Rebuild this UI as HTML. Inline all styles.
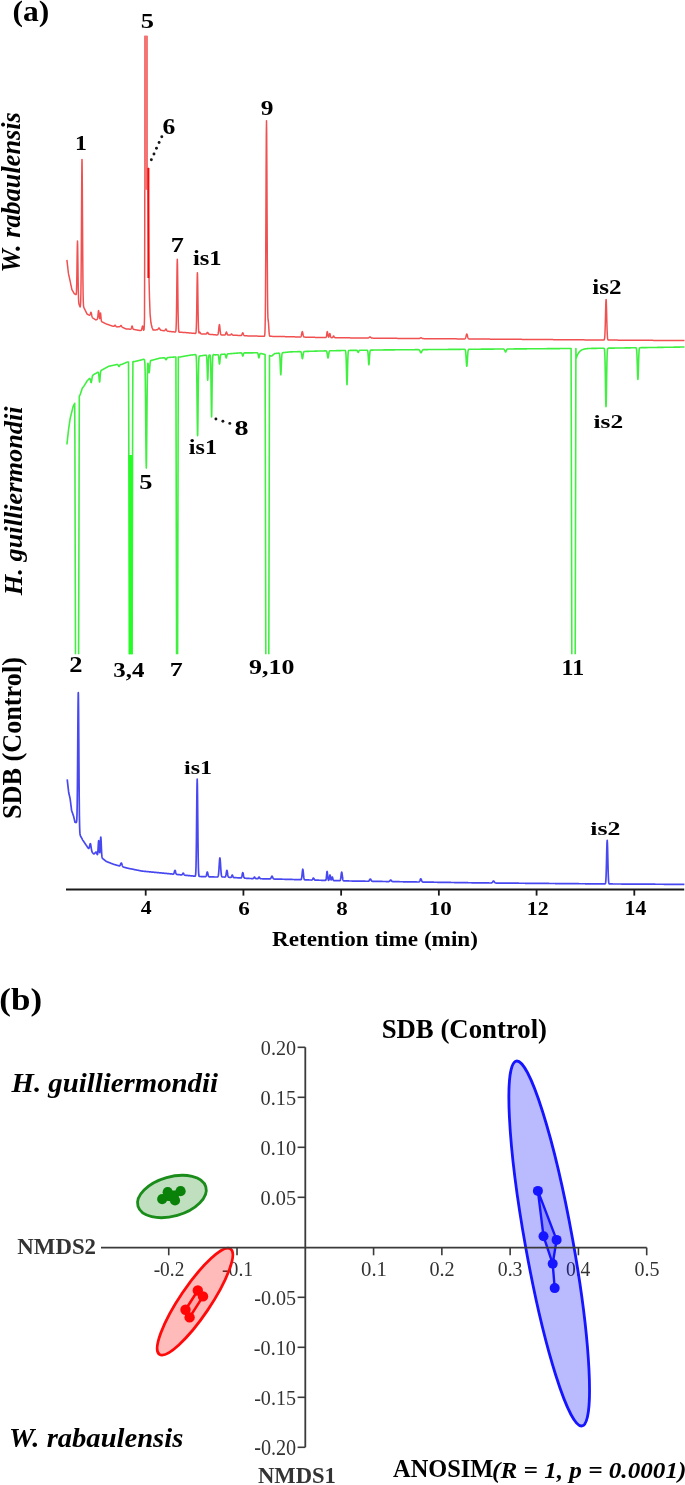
<!DOCTYPE html>
<html><head><meta charset="utf-8"><style>
html,body{margin:0;padding:0;background:#fff;}
svg{display:block;will-change:transform;}
text{font-family:"Liberation Serif",serif;}
</style></head><body>
<svg width="685" height="1485" viewBox="0 0 685 1485">
<rect width="685" height="1485" fill="#fff"/>
<clipPath id="cr"><rect x="0" y="35.8" width="685" height="400"/></clipPath>
<polyline clip-path="url(#cr)" points="66.90,259.80 67.10,261.59 67.30,263.37 67.50,265.16 67.70,266.95 67.90,268.73 68.10,270.52 68.30,272.31 68.50,273.66 68.70,274.57 68.90,275.48 69.10,276.39 69.30,277.30 69.50,278.21 69.70,279.12 69.90,280.03 70.10,280.94 70.30,281.88 70.50,282.85 70.70,283.81 70.90,284.78 71.10,285.74 71.30,286.71 71.50,287.67 71.70,288.64 71.90,289.60 72.10,289.94 72.30,290.28 72.50,290.62 72.70,290.97 72.90,291.31 73.10,291.65 73.30,291.99 73.50,292.33 73.70,292.68 73.90,293.02 74.10,293.36 74.30,293.70 74.50,293.83 74.70,293.96 74.90,294.09 75.10,294.22 75.30,294.35 75.50,294.47 75.70,294.59 75.90,294.63 76.10,294.56 76.30,293.81 76.50,291.00 76.70,284.42 76.90,272.98 77.10,258.40 77.30,245.75 77.50,241.10 77.70,247.35 77.90,261.60 78.10,277.60 78.30,290.28 78.50,298.10 78.70,301.86 78.90,303.57 79.10,304.43 79.30,305.03 79.50,305.56 79.70,306.07 79.90,306.57 80.10,306.99 80.30,306.40 80.50,304.98 80.70,301.38 80.90,293.09 81.10,276.99 81.30,250.98 81.50,217.08 81.70,183.55 81.90,162.30 82.00,159.40 82.10,162.30 82.30,183.55 82.50,217.08 82.70,250.98 82.90,276.99 83.10,293.15 83.30,301.58 83.50,305.32 83.70,306.87 83.90,307.59 84.10,308.06 84.30,308.45 84.50,308.83 84.70,309.21 84.90,309.60 85.10,310.01 85.30,310.42 85.50,310.83 85.70,311.24 85.90,311.65 86.10,312.06 86.30,312.47 86.50,312.87 86.70,313.28 86.90,313.69 87.10,314.10 87.30,314.20 87.50,314.31 87.70,314.41 87.90,314.52 88.10,314.62 88.30,314.73 88.50,314.83 88.70,314.93 88.90,315.03 89.10,315.11 89.30,315.17 89.50,315.19 89.70,315.14 89.90,314.91 90.10,314.48 90.30,313.86 90.50,313.15 90.70,312.56 90.90,312.27 91.00,312.30 91.10,312.45 91.30,313.07 91.50,314.01 91.70,315.05 91.90,316.01 92.10,316.79 92.30,317.30 92.50,317.65 92.70,317.88 92.90,318.06 93.10,318.20 93.30,318.32 93.50,318.45 93.70,318.57 93.90,318.69 94.10,318.81 94.30,318.93 94.50,319.05 94.70,319.17 94.90,319.29 95.10,319.42 95.30,319.54 95.50,319.66 95.70,319.78 95.90,319.90 96.10,319.83 96.30,319.76 96.50,319.69 96.70,319.61 96.90,319.52 97.10,319.37 97.30,319.09 97.50,318.51 97.70,317.52 97.90,315.99 98.10,313.96 98.30,311.95 98.50,310.73 98.60,310.60 98.70,310.84 98.90,312.30 99.10,314.53 99.30,316.72 99.50,318.22 99.70,318.61 99.90,317.70 100.10,315.75 100.30,313.71 100.50,312.89 100.70,313.97 100.90,316.32 101.10,318.72 101.30,320.37 101.50,321.23 101.70,321.61 101.90,321.78 102.10,321.89 102.30,321.99 102.50,322.09 102.70,322.19 102.90,322.29 103.10,322.39 103.30,322.48 103.50,322.58 103.70,322.68 103.90,322.78 104.10,322.87 104.30,322.97 104.50,323.07 104.70,323.17 104.90,323.27 105.10,323.36 105.30,323.46 105.50,323.56 105.70,323.66 105.90,323.76 106.10,323.85 106.30,323.95 106.50,324.03 106.70,324.10 106.90,324.17 107.10,324.24 107.30,324.31 107.50,324.38 107.70,324.45 107.90,324.51 108.10,324.58 108.30,324.65 108.50,324.72 108.70,324.79 108.90,324.86 109.10,324.93 109.30,324.99 109.50,325.06 109.70,325.13 109.90,325.20 110.10,325.27 110.30,325.34 110.50,325.41 110.70,325.47 110.90,325.54 111.10,325.61 111.30,325.68 111.50,325.75 111.70,325.82 111.90,325.89 112.10,325.95 112.30,326.02 112.50,326.09 112.70,326.16 112.90,326.23 113.10,326.29 113.30,326.35 113.50,326.37 113.70,326.35 113.90,326.28 114.10,326.14 114.30,325.94 114.50,325.68 114.70,325.43 114.90,325.25 115.10,325.20 115.30,325.31 115.50,325.54 115.70,325.85 115.90,326.16 116.10,326.43 116.30,326.62 116.50,326.75 116.70,326.83 116.90,326.88 117.10,326.88 117.30,326.88 117.50,326.87 117.70,326.86 117.90,326.85 118.10,326.84 118.30,326.83 118.50,326.82 118.70,326.81 118.90,326.80 119.10,326.78 119.30,326.76 119.50,326.72 119.70,326.65 119.90,326.53 120.10,326.35 120.30,326.13 120.50,325.88 120.70,325.66 120.90,325.52 121.00,325.50 121.10,325.56 121.30,325.77 121.50,326.07 121.70,326.40 121.90,326.71 122.10,326.96 122.30,327.16 122.50,327.31 122.70,327.43 122.90,327.53 123.10,327.63 123.30,327.72 123.50,327.81 123.70,327.89 123.90,327.98 124.10,328.07 124.30,328.16 124.50,328.25 124.70,328.34 124.90,328.43 125.10,328.51 125.30,328.60 125.50,328.69 125.70,328.78 125.90,328.87 126.10,328.96 126.30,329.00 126.50,329.01 126.70,329.02 126.90,329.03 127.10,329.04 127.30,329.05 127.50,329.06 127.70,329.06 127.90,329.07 128.10,329.08 128.30,329.09 128.50,329.10 128.70,329.11 128.90,329.12 129.10,329.12 129.30,329.13 129.50,329.14 129.70,329.15 129.90,329.16 130.10,329.17 130.30,329.17 130.50,329.16 130.70,329.13 130.90,329.02 131.10,328.77 131.30,328.31 131.50,327.64 131.70,326.87 131.90,326.24 132.10,326.00 132.30,326.26 132.50,326.91 132.70,327.70 132.90,328.38 133.10,328.86 133.30,329.14 133.50,329.29 133.70,329.37 133.90,329.43 134.10,329.47 134.30,329.50 134.50,329.54 134.70,329.58 134.90,329.62 135.10,329.65 135.30,329.69 135.50,329.73 135.70,329.77 135.90,329.80 136.10,329.84 136.30,329.88 136.50,329.92 136.70,329.95 136.90,329.99 137.10,330.03 137.30,330.06 137.50,330.10 137.70,330.14 137.90,330.18 138.10,330.21 138.30,330.25 138.50,330.29 138.70,330.33 138.90,330.36 139.10,330.40 139.30,330.40 139.50,330.41 139.70,330.41 139.90,330.42 140.10,330.42 140.30,330.43 140.50,330.43 140.70,330.43 140.90,330.43 141.10,330.40 141.30,330.30 141.50,330.06 141.70,329.57 141.90,328.78 142.10,327.75 142.30,326.73 142.50,326.09 142.60,326.00 142.70,326.09 142.90,326.74 143.10,327.77 143.30,328.81 143.50,329.61 143.70,330.25 143.90,329.75 144.10,329.25 144.30,325.33 144.50,318.00 144.70,250.00 144.90,120.00 145.10,20.00 145.30,20.00 145.50,20.00 145.70,20.00 145.90,20.00 146.10,20.00 146.30,20.00 146.50,20.00 146.70,80.00 146.90,131.67 147.10,175.00 147.30,179.00 147.50,174.56 147.70,167.30 147.90,176.38 148.10,185.46 148.30,202.50 148.50,227.50 148.70,249.50 148.90,268.50 149.10,282.00 149.30,290.00 149.50,298.00 149.70,303.33 149.90,308.67 150.10,314.00 150.30,316.13 150.50,318.25 150.70,320.37 150.90,322.50 151.10,323.41 151.30,324.32 151.50,325.23 151.70,326.14 151.90,327.05 152.10,327.71 152.30,328.13 152.50,328.55 152.70,328.97 152.90,329.39 153.10,329.98 153.30,329.97 153.50,329.96 153.70,329.96 153.90,329.95 154.10,329.94 154.30,329.93 154.50,329.93 154.70,329.92 154.90,329.91 155.10,329.91 155.30,329.90 155.50,329.89 155.70,329.88 155.90,329.88 156.10,329.87 156.30,329.86 156.50,329.85 156.70,329.84 156.90,329.82 157.10,329.78 157.30,329.72 157.50,329.62 157.70,329.46 157.90,329.23 158.10,328.96 158.30,328.66 158.50,328.36 158.70,328.12 158.90,328.00 159.00,328.00 159.10,328.04 159.30,328.22 159.50,328.52 159.70,328.88 159.90,329.24 160.10,329.56 160.30,329.81 160.50,330.00 160.70,330.12 160.90,330.21 161.10,330.27 161.30,330.31 161.50,330.35 161.70,330.38 161.90,330.41 162.10,330.44 162.30,330.48 162.50,330.51 162.70,330.54 162.90,330.57 163.10,330.60 163.30,330.63 163.50,330.66 163.70,330.69 163.90,330.72 164.10,330.74 164.30,330.73 164.50,330.69 164.70,330.58 164.90,330.38 165.10,330.09 165.30,329.72 165.50,329.35 165.70,329.08 165.90,329.00 166.10,329.13 166.30,329.45 166.50,329.86 166.70,330.28 166.90,330.63 167.10,330.88 167.30,331.04 167.50,331.14 167.70,331.20 167.90,331.24 168.10,331.27 168.30,331.30 168.50,331.32 168.70,331.34 168.90,331.37 169.10,331.39 169.30,331.42 169.50,331.44 169.70,331.46 169.90,331.49 170.10,331.51 170.30,331.53 170.50,331.55 170.70,331.57 170.90,331.59 171.10,331.61 171.30,331.63 171.50,331.65 171.70,331.67 171.90,331.69 172.10,331.71 172.30,331.73 172.50,331.75 172.70,331.77 172.90,331.79 173.10,331.81 173.30,331.83 173.50,331.85 173.70,331.87 173.90,331.89 174.10,331.91 174.30,331.93 174.50,331.95 174.70,331.97 174.90,331.99 175.10,332.00 175.30,331.99 175.50,331.91 175.70,331.60 175.90,330.60 176.10,327.96 176.30,322.20 176.50,311.80 176.70,296.59 176.90,279.15 177.10,264.80 177.30,259.20 177.50,264.82 177.70,279.19 177.90,296.65 178.10,311.88 178.30,322.30 178.50,328.08 178.70,330.74 178.90,331.76 179.10,332.09 179.30,332.19 179.50,332.22 179.70,332.23 179.90,332.24 180.10,332.25 180.30,332.26 180.50,332.27 180.70,332.29 180.90,332.30 181.10,332.31 181.30,332.31 181.50,332.32 181.70,332.33 181.90,332.35 182.10,332.36 182.30,332.37 182.50,332.38 182.70,332.38 182.90,332.39 183.10,332.40 183.30,332.42 183.50,332.43 183.70,332.44 183.90,332.44 184.10,332.45 184.30,332.46 184.50,332.48 184.70,332.49 184.90,332.50 185.10,332.51 185.30,332.53 185.50,332.55 185.70,332.57 185.90,332.59 186.10,332.61 186.30,332.63 186.50,332.65 186.70,332.67 186.90,332.69 187.10,332.71 187.30,332.73 187.50,332.75 187.70,332.77 187.90,332.79 188.10,332.81 188.30,332.83 188.50,332.85 188.70,332.87 188.90,332.89 189.10,332.91 189.30,332.93 189.50,332.95 189.70,332.97 189.90,332.99 190.10,333.01 190.30,333.02 190.50,333.04 190.70,333.06 190.90,333.07 191.10,333.09 191.30,333.10 191.50,333.12 191.70,333.14 191.90,333.15 192.10,333.17 192.30,333.18 192.50,333.20 192.70,333.22 192.90,333.23 193.10,333.25 193.30,333.26 193.50,333.28 193.70,333.30 193.90,333.31 194.10,333.33 194.30,333.34 194.50,333.36 194.70,333.38 194.90,333.39 195.10,333.41 195.30,333.42 195.50,333.40 195.70,333.27 195.90,332.80 196.10,331.42 196.30,328.10 196.50,321.49 196.70,310.72 196.90,296.68 197.10,282.79 197.30,274.00 197.40,272.80 197.50,274.01 197.70,282.84 197.90,296.76 198.10,310.83 198.30,321.62 198.50,328.22 198.70,331.49 198.90,332.74 199.10,332.98 199.30,332.80 199.50,332.51 199.70,332.32 199.80,332.30 199.90,332.34 200.10,332.57 200.30,332.92 200.50,333.27 200.70,333.55 200.90,333.72 201.10,333.81 201.30,333.86 201.50,333.88 201.70,333.90 201.90,333.91 202.10,333.92 202.30,333.93 202.50,333.95 202.70,333.96 202.90,333.97 203.10,333.98 203.30,333.99 203.50,334.00 203.70,334.02 203.90,334.03 204.10,334.04 204.30,334.05 204.50,334.06 204.70,334.07 204.90,334.09 205.10,334.10 205.30,334.11 205.50,334.11 205.70,334.11 205.90,334.09 206.10,334.04 206.30,333.92 206.50,333.72 206.70,333.44 206.90,333.09 207.10,332.74 207.30,332.49 207.50,332.40 207.70,332.51 207.90,332.79 208.10,333.16 208.30,333.53 208.50,333.84 208.70,334.06 208.90,334.20 209.10,334.28 209.30,334.32 209.50,334.35 209.70,334.36 209.90,334.38 210.10,334.39 210.30,334.40 210.50,334.41 210.70,334.42 210.90,334.44 211.10,334.45 211.30,334.46 211.50,334.47 211.70,334.48 211.90,334.49 212.10,334.51 212.30,334.53 212.50,334.55 212.70,334.57 212.90,334.59 213.10,334.61 213.30,334.63 213.50,334.65 213.70,334.67 213.90,334.69 214.10,334.71 214.30,334.73 214.50,334.75 214.70,334.77 214.90,334.79 215.10,334.81 215.30,334.83 215.50,334.85 215.70,334.87 215.90,334.89 216.10,334.90 216.30,334.90 216.50,334.90 216.70,334.90 216.90,334.90 217.10,334.90 217.30,334.89 217.50,334.84 217.70,334.73 217.90,334.46 218.10,333.93 218.30,332.99 218.50,331.57 218.70,329.69 218.90,327.63 219.10,325.81 219.30,324.74 219.40,324.60 219.50,324.74 219.70,325.82 219.90,327.63 220.10,329.70 220.30,331.58 220.50,333.01 220.70,333.95 220.90,334.48 221.10,334.75 221.30,334.87 221.50,334.92 221.70,334.93 221.90,334.94 222.10,334.94 222.30,334.94 222.50,334.95 222.70,334.95 222.90,334.95 223.10,334.95 223.30,334.95 223.50,334.95 223.70,334.95 223.90,334.96 224.10,334.96 224.30,334.96 224.50,334.96 224.70,334.95 224.90,334.93 225.10,334.86 225.30,334.70 225.50,334.38 225.70,333.85 225.90,333.17 226.10,332.49 226.30,332.06 226.40,332.00 226.50,332.06 226.70,332.49 226.90,333.17 227.10,333.86 227.30,334.39 227.50,334.72 227.70,334.88 227.90,334.95 228.10,334.98 228.30,334.99 228.50,334.99 228.70,334.99 228.90,334.99 229.10,334.99 229.30,334.99 229.50,335.00 229.70,335.00 229.90,334.99 230.10,334.98 230.30,334.95 230.50,334.88 230.70,334.74 230.90,334.52 231.10,334.27 231.30,334.07 231.50,334.00 231.70,334.09 231.90,334.31 232.10,334.58 232.30,334.82 232.50,334.98 232.70,335.07 232.90,335.12 233.10,335.15 233.30,335.16 233.50,335.17 233.70,335.18 233.90,335.19 234.10,335.20 234.30,335.21 234.50,335.23 234.70,335.24 234.90,335.25 235.10,335.25 235.30,335.26 235.50,335.27 235.70,335.29 235.90,335.30 236.10,335.31 236.30,335.31 236.50,335.32 236.70,335.33 236.90,335.35 237.10,335.36 237.30,335.37 237.50,335.38 237.70,335.38 237.90,335.39 238.10,335.40 238.30,335.42 238.50,335.43 238.70,335.44 238.90,335.44 239.10,335.45 239.30,335.46 239.50,335.47 239.70,335.48 239.90,335.49 240.10,335.50 240.30,335.51 240.50,335.52 240.70,335.53 240.90,335.53 241.10,335.50 241.30,335.44 241.50,335.30 241.70,335.06 241.90,334.67 242.10,334.17 242.30,333.61 242.50,333.12 242.70,332.83 242.80,332.80 242.90,332.84 243.10,333.15 243.30,333.66 243.50,334.24 243.70,334.76 243.90,335.17 244.10,335.43 244.30,335.59 244.50,335.67 244.70,335.72 244.90,335.74 245.10,335.75 245.30,335.76 245.50,335.77 245.70,335.78 245.90,335.79 246.10,335.80 246.30,335.81 246.50,335.82 246.70,335.83 246.90,335.85 247.10,335.86 247.30,335.87 247.50,335.88 247.70,335.88 247.90,335.89 248.10,335.90 248.30,335.92 248.50,335.93 248.70,335.94 248.90,335.94 249.10,335.95 249.30,335.96 249.50,335.98 249.70,335.99 249.90,336.00 250.10,336.00 250.30,336.00 250.50,336.01 250.70,336.01 250.90,336.01 251.10,336.02 251.30,336.02 251.50,336.02 251.70,336.03 251.90,336.03 252.10,336.04 252.30,336.04 252.50,336.04 252.70,336.05 252.90,336.05 253.10,336.05 253.30,336.06 253.50,336.06 253.70,336.06 253.90,336.06 254.10,336.07 254.30,336.07 254.50,336.07 254.70,336.08 254.90,336.08 255.10,336.08 255.30,336.09 255.50,336.09 255.70,336.10 255.90,336.10 256.10,336.10 256.30,336.11 256.50,336.11 256.70,336.11 256.90,336.12 257.10,336.12 257.30,336.12 257.50,336.12 257.70,336.13 257.90,336.13 258.10,336.13 258.30,336.14 258.50,336.14 258.70,336.14 258.90,336.15 259.10,336.15 259.30,336.15 259.50,336.16 259.70,336.16 259.90,336.17 260.10,336.17 260.30,336.17 260.50,336.18 260.70,336.18 260.90,336.18 261.10,336.19 261.30,336.19 261.50,336.19 261.70,336.19 261.90,336.20 262.10,336.20 262.30,336.20 262.50,336.21 262.70,336.21 262.90,336.21 263.10,336.22 263.30,336.22 263.50,336.22 263.70,336.23 263.90,336.23 264.10,336.22 264.30,336.17 264.50,335.95 264.70,335.23 264.90,333.12 265.10,327.81 265.30,316.32 265.50,295.00 265.70,261.45 265.90,217.42 266.10,170.86 266.30,134.58 266.50,120.78 266.70,134.50 266.90,170.60 267.10,216.64 267.30,259.54 267.50,291.05 267.70,309.39 267.90,317.47 268.10,319.97 268.30,320.98 268.50,322.81 268.70,325.85 268.90,329.34 269.10,332.34 269.30,334.39 269.50,335.52 269.70,336.04 269.90,336.25 270.10,336.31 270.30,336.33 270.50,336.34 270.70,336.34 270.90,336.35 271.10,336.35 271.30,336.36 271.50,336.36 271.70,336.36 271.90,336.37 272.10,336.37 272.30,336.37 272.50,336.38 272.70,336.38 272.90,336.38 273.10,336.38 273.30,336.39 273.50,336.39 273.70,336.39 273.90,336.40 274.10,336.40 274.30,336.40 274.50,336.41 274.70,336.41 274.90,336.42 275.10,336.42 275.30,336.42 275.50,336.43 275.70,336.43 275.90,336.43 276.10,336.44 276.30,336.44 276.50,336.44 276.70,336.44 276.90,336.45 277.10,336.45 277.30,336.45 277.50,336.46 277.70,336.46 277.90,336.46 278.10,336.47 278.30,336.47 278.50,336.48 278.70,336.48 278.90,336.48 279.10,336.49 279.30,336.49 279.50,336.49 279.70,336.50 279.90,336.50 280.10,336.50 280.30,336.51 280.50,336.51 280.70,336.52 280.90,336.52 281.10,336.53 281.30,336.53 281.50,336.54 281.70,336.54 281.90,336.55 282.10,336.55 282.30,336.56 282.50,336.56 282.70,336.57 282.90,336.57 283.10,336.58 283.30,336.58 283.50,336.59 283.70,336.59 283.90,336.60 284.10,336.60 284.30,336.61 284.50,336.61 284.70,336.62 284.90,336.62 285.10,336.63 285.30,336.63 285.50,336.64 285.70,336.64 285.90,336.65 286.10,336.65 286.30,336.66 286.50,336.66 286.70,336.67 286.90,336.67 287.10,336.68 287.30,336.68 287.50,336.69 287.70,336.69 287.90,336.70 288.10,336.70 288.30,336.71 288.50,336.71 288.70,336.72 288.90,336.72 289.10,336.73 289.30,336.73 289.50,336.74 289.70,336.74 289.90,336.75 290.10,336.75 290.30,336.76 290.50,336.76 290.70,336.77 290.90,336.77 291.10,336.78 291.30,336.78 291.50,336.79 291.70,336.79 291.90,336.80 292.10,336.80 292.30,336.81 292.50,336.81 292.70,336.82 292.90,336.82 293.10,336.83 293.30,336.83 293.50,336.84 293.70,336.84 293.90,336.85 294.10,336.85 294.30,336.86 294.50,336.86 294.70,336.87 294.90,336.87 295.10,336.88 295.30,336.88 295.50,336.89 295.70,336.89 295.90,336.90 296.10,336.90 296.30,336.91 296.50,336.91 296.70,336.92 296.90,336.92 297.10,336.93 297.30,336.93 297.50,336.94 297.70,336.94 297.90,336.95 298.10,336.95 298.30,336.96 298.50,336.96 298.70,336.97 298.90,336.97 299.10,336.98 299.30,336.98 299.50,336.99 299.70,336.99 299.90,337.00 300.10,337.00 300.30,336.99 300.50,336.95 300.70,336.86 300.90,336.66 301.10,336.29 301.30,335.67 301.50,334.79 301.70,333.73 301.90,332.68 302.10,331.89 302.30,331.60 302.50,331.90 302.70,332.70 302.90,333.76 303.10,334.83 303.30,335.72 303.50,336.35 303.70,336.73 303.90,336.94 304.10,337.04 304.30,337.09 304.50,337.11 304.70,337.12 304.90,337.12 305.10,337.13 305.30,337.13 305.50,337.14 305.70,337.14 305.90,337.15 306.10,337.15 306.30,337.16 306.50,337.16 306.70,337.17 306.90,337.17 307.10,337.18 307.30,337.18 307.50,337.19 307.70,337.19 307.90,337.20 308.10,337.20 308.30,337.21 308.50,337.21 308.70,337.22 308.90,337.22 309.10,337.23 309.30,337.23 309.50,337.24 309.70,337.24 309.90,337.25 310.10,337.25 310.30,337.26 310.50,337.26 310.70,337.27 310.90,337.27 311.10,337.28 311.30,337.28 311.50,337.29 311.70,337.29 311.90,337.30 312.10,337.30 312.30,337.31 312.50,337.31 312.70,337.32 312.90,337.32 313.10,337.33 313.30,337.33 313.50,337.34 313.70,337.34 313.90,337.35 314.10,337.35 314.30,337.36 314.50,337.36 314.70,337.37 314.90,337.37 315.10,337.38 315.30,337.38 315.50,337.39 315.70,337.39 315.90,337.40 316.10,337.40 316.30,337.41 316.50,337.41 316.70,337.42 316.90,337.42 317.10,337.43 317.30,337.43 317.50,337.44 317.70,337.44 317.90,337.45 318.10,337.45 318.30,337.46 318.50,337.46 318.70,337.47 318.90,337.47 319.10,337.48 319.30,337.48 319.50,337.49 319.70,337.49 319.90,337.50 320.10,337.50 320.30,337.50 320.50,337.51 320.70,337.51 320.90,337.51 321.10,337.51 321.30,337.52 321.50,337.52 321.70,337.52 321.90,337.52 322.10,337.53 322.30,337.53 322.50,337.53 322.70,337.53 322.90,337.54 323.10,337.54 323.30,337.54 323.50,337.54 323.70,337.55 323.90,337.55 324.10,337.55 324.30,337.55 324.50,337.56 324.70,337.56 324.90,337.56 325.10,337.56 325.30,337.56 325.50,337.56 325.70,337.54 325.90,337.45 326.10,337.24 326.30,336.77 326.50,335.92 326.70,334.67 326.90,333.24 327.10,332.06 327.30,331.60 327.50,332.06 327.70,333.25 327.90,334.68 328.10,335.92 328.30,336.75 328.50,337.13 328.70,337.12 328.90,336.76 329.10,336.06 329.30,335.11 329.50,334.17 329.70,333.58 329.80,333.50 329.90,333.58 330.10,334.18 330.30,335.13 330.50,336.08 330.70,336.82 330.90,337.27 331.10,337.50 331.30,337.60 331.50,337.63 331.70,337.64 331.90,337.64 332.10,337.63 332.30,337.60 332.50,337.51 332.70,337.33 332.90,337.03 333.10,336.65 333.30,336.27 333.50,336.03 333.60,336.00 333.70,336.03 333.90,336.28 334.10,336.66 334.30,337.05 334.50,337.35 334.70,337.54 334.90,337.63 335.10,337.67 335.30,337.69 335.50,337.69 335.70,337.70 335.90,337.70 336.10,337.70 336.30,337.70 336.50,337.71 336.70,337.71 336.90,337.71 337.10,337.71 337.30,337.72 337.50,337.72 337.70,337.72 337.90,337.72 338.10,337.73 338.30,337.73 338.50,337.73 338.70,337.73 338.90,337.74 339.10,337.74 339.30,337.74 339.50,337.74 339.70,337.75 339.90,337.75 340.10,337.75 340.30,337.75 340.50,337.76 340.70,337.76 340.90,337.76 341.10,337.76 341.30,337.77 341.50,337.77 341.70,337.77 341.90,337.77 342.10,337.78 342.30,337.78 342.50,337.78 342.70,337.78 342.90,337.79 343.10,337.79 343.30,337.79 343.50,337.79 343.70,337.80 343.90,337.80 344.10,337.80 344.30,337.80 344.50,337.81 344.70,337.81 344.90,337.81 345.10,337.81 345.30,337.82 345.50,337.82 345.70,337.82 345.90,337.82 346.10,337.83 346.30,337.83 346.50,337.83 346.70,337.83 346.90,337.84 347.10,337.84 347.30,337.84 347.50,337.84 347.70,337.85 347.90,337.85 348.10,337.85 348.30,337.85 348.50,337.86 348.70,337.86 348.90,337.86 349.10,337.86 349.30,337.87 349.50,337.87 349.70,337.87 349.90,337.87 350.10,337.88 350.30,337.88 350.50,337.88 350.70,337.88 350.90,337.89 351.10,337.89 351.30,337.89 351.50,337.89 351.70,337.90 351.90,337.90 352.10,337.90 352.30,337.90 352.50,337.91 352.70,337.91 352.90,337.91 353.10,337.91 353.30,337.92 353.50,337.92 353.70,337.92 353.90,337.92 354.10,337.93 354.30,337.93 354.50,337.93 354.70,337.93 354.90,337.94 355.10,337.94 355.30,337.94 355.50,337.94 355.70,337.95 355.90,337.95 356.10,337.95 356.30,337.95 356.50,337.96 356.70,337.96 356.90,337.96 357.10,337.96 357.30,337.97 357.50,337.97 357.70,337.97 357.90,337.97 358.10,337.98 358.30,337.98 358.50,337.98 358.70,337.98 358.90,337.99 359.10,337.99 359.30,337.99 359.50,337.99 359.70,338.00 359.90,338.00 360.10,338.00 360.30,338.00 360.50,338.00 360.70,338.01 360.90,338.01 361.10,338.01 361.30,338.01 361.50,338.01 361.70,338.02 361.90,338.02 362.10,338.02 362.30,338.02 362.50,338.02 362.70,338.03 362.90,338.03 363.10,338.03 363.30,338.03 363.50,338.04 363.70,338.04 363.90,338.04 364.10,338.04 364.30,338.04 364.50,338.05 364.70,338.05 364.90,338.05 365.10,338.05 365.30,338.05 365.50,338.05 365.70,338.06 365.90,338.06 366.10,338.06 366.30,338.06 366.50,338.06 366.70,338.07 366.90,338.07 367.10,338.07 367.30,338.07 367.50,338.07 367.70,338.06 367.90,338.04 368.10,338.02 368.30,337.97 368.50,337.90 368.70,337.79 368.90,337.66 369.10,337.51 369.30,337.34 369.50,337.19 369.70,337.07 369.90,337.01 370.00,337.00 370.10,337.01 370.30,337.08 370.50,337.20 370.70,337.36 370.90,337.52 371.10,337.68 371.30,337.82 371.50,337.93 371.70,338.00 371.90,338.05 372.10,338.09 372.30,338.11 372.50,338.12 372.70,338.12 372.90,338.13 373.10,338.13 373.30,338.13 373.50,338.13 373.70,338.14 373.90,338.14 374.10,338.14 374.30,338.14 374.50,338.14 374.70,338.15 374.90,338.15 375.10,338.15 375.30,338.15 375.50,338.16 375.70,338.16 375.90,338.16 376.10,338.16 376.30,338.16 376.50,338.17 376.70,338.17 376.90,338.17 377.10,338.17 377.30,338.17 377.50,338.18 377.70,338.18 377.90,338.18 378.10,338.18 378.30,338.18 378.50,338.19 378.70,338.19 378.90,338.19 379.10,338.19 379.30,338.19 379.50,338.19 379.70,338.20 379.90,338.20 380.10,338.20 380.30,338.20 380.50,338.20 380.70,338.21 380.90,338.21 381.10,338.21 381.30,338.21 381.50,338.22 381.70,338.22 381.90,338.22 382.10,338.22 382.30,338.22 382.50,338.23 382.70,338.23 382.90,338.23 383.10,338.23 383.30,338.23 383.50,338.24 383.70,338.24 383.90,338.24 384.10,338.24 384.30,338.24 384.50,338.25 384.70,338.25 384.90,338.25 385.10,338.25 385.30,338.25 385.50,338.25 385.70,338.26 385.90,338.26 386.10,338.26 386.30,338.26 386.50,338.26 386.70,338.27 386.90,338.27 387.10,338.27 387.30,338.27 387.50,338.28 387.70,338.28 387.90,338.28 388.10,338.28 388.30,338.28 388.50,338.29 388.70,338.29 388.90,338.29 389.10,338.29 389.30,338.29 389.50,338.30 389.70,338.30 389.90,338.30 390.10,338.30 390.30,338.30 390.50,338.31 390.70,338.31 390.90,338.31 391.10,338.31 391.30,338.31 391.50,338.31 391.70,338.32 391.90,338.32 392.10,338.32 392.30,338.32 392.50,338.32 392.70,338.33 392.90,338.33 393.10,338.33 393.30,338.33 393.50,338.34 393.70,338.34 393.90,338.34 394.10,338.34 394.30,338.34 394.50,338.35 394.70,338.35 394.90,338.35 395.10,338.35 395.30,338.35 395.50,338.36 395.70,338.36 395.90,338.36 396.10,338.36 396.30,338.36 396.50,338.37 396.70,338.37 396.90,338.37 397.10,338.37 397.30,338.37 397.50,338.38 397.70,338.38 397.90,338.38 398.10,338.38 398.30,338.38 398.50,338.38 398.70,338.39 398.90,338.39 399.10,338.39 399.30,338.39 399.50,338.40 399.70,338.40 399.90,338.40 400.10,338.40 400.30,338.40 400.50,338.41 400.70,338.41 400.90,338.41 401.10,338.41 401.30,338.41 401.50,338.42 401.70,338.42 401.90,338.42 402.10,338.42 402.30,338.42 402.50,338.43 402.70,338.43 402.90,338.43 403.10,338.43 403.30,338.43 403.50,338.44 403.70,338.44 403.90,338.44 404.10,338.44 404.30,338.44 404.50,338.44 404.70,338.45 404.90,338.45 405.10,338.45 405.30,338.45 405.50,338.46 405.70,338.46 405.90,338.46 406.10,338.46 406.30,338.46 406.50,338.47 406.70,338.47 406.90,338.47 407.10,338.47 407.30,338.47 407.50,338.48 407.70,338.48 407.90,338.48 408.10,338.48 408.30,338.48 408.50,338.49 408.70,338.49 408.90,338.49 409.10,338.49 409.30,338.49 409.50,338.50 409.70,338.50 409.90,338.50 410.10,338.50 410.30,338.50 410.50,338.50 410.70,338.51 410.90,338.51 411.10,338.51 411.30,338.51 411.50,338.52 411.70,338.52 411.90,338.52 412.10,338.52 412.30,338.52 412.50,338.53 412.70,338.53 412.90,338.53 413.10,338.53 413.30,338.53 413.50,338.54 413.70,338.54 413.90,338.54 414.10,338.54 414.30,338.54 414.50,338.55 414.70,338.55 414.90,338.55 415.10,338.55 415.30,338.55 415.50,338.56 415.70,338.56 415.90,338.56 416.10,338.56 416.30,338.56 416.50,338.56 416.70,338.57 416.90,338.57 417.10,338.57 417.30,338.57 417.50,338.57 417.70,338.58 417.90,338.58 418.10,338.58 418.30,338.58 418.50,338.58 418.70,338.57 418.90,338.56 419.10,338.54 419.30,338.51 419.50,338.46 419.70,338.38 419.90,338.29 420.10,338.17 420.30,338.05 420.50,337.94 420.70,337.85 420.90,337.81 421.00,337.80 421.10,337.81 421.30,337.86 421.50,337.95 421.70,338.06 421.90,338.19 422.10,338.30 422.30,338.40 422.50,338.48 422.70,338.54 422.90,338.57 423.10,338.60 423.30,338.61 423.50,338.62 423.70,338.63 423.90,338.63 424.10,338.63 424.30,338.63 424.50,338.63 424.70,338.64 424.90,338.64 425.10,338.64 425.30,338.64 425.50,338.64 425.70,338.64 425.90,338.64 426.10,338.65 426.30,338.65 426.50,338.65 426.70,338.65 426.90,338.65 427.10,338.65 427.30,338.65 427.50,338.66 427.70,338.66 427.90,338.66 428.10,338.66 428.30,338.66 428.50,338.66 428.70,338.67 428.90,338.67 429.10,338.67 429.30,338.67 429.50,338.67 429.70,338.67 429.90,338.67 430.10,338.68 430.30,338.68 430.50,338.68 430.70,338.68 430.90,338.68 431.10,338.68 431.30,338.68 431.50,338.69 431.70,338.69 431.90,338.69 432.10,338.69 432.30,338.69 432.50,338.69 432.70,338.70 432.90,338.70 433.10,338.70 433.30,338.70 433.50,338.70 433.70,338.70 433.90,338.70 434.10,338.71 434.30,338.71 434.50,338.71 434.70,338.71 434.90,338.71 435.10,338.71 435.30,338.71 435.50,338.72 435.70,338.72 435.90,338.72 436.10,338.72 436.30,338.72 436.50,338.72 436.70,338.73 436.90,338.73 437.10,338.73 437.30,338.73 437.50,338.73 437.70,338.73 437.90,338.73 438.10,338.74 438.30,338.74 438.50,338.74 438.70,338.74 438.90,338.74 439.10,338.74 439.30,338.74 439.50,338.75 439.70,338.75 439.90,338.75 440.10,338.75 440.30,338.75 440.50,338.75 440.70,338.76 440.90,338.76 441.10,338.76 441.30,338.76 441.50,338.76 441.70,338.76 441.90,338.76 442.10,338.77 442.30,338.77 442.50,338.77 442.70,338.77 442.90,338.77 443.10,338.77 443.30,338.77 443.50,338.78 443.70,338.78 443.90,338.78 444.10,338.78 444.30,338.78 444.50,338.78 444.70,338.79 444.90,338.79 445.10,338.79 445.30,338.79 445.50,338.79 445.70,338.79 445.90,338.79 446.10,338.80 446.30,338.80 446.50,338.80 446.70,338.80 446.90,338.80 447.10,338.80 447.30,338.80 447.50,338.81 447.70,338.81 447.90,338.81 448.10,338.81 448.30,338.81 448.50,338.81 448.70,338.82 448.90,338.82 449.10,338.82 449.30,338.82 449.50,338.82 449.70,338.82 449.90,338.82 450.10,338.83 450.30,338.83 450.50,338.83 450.70,338.83 450.90,338.83 451.10,338.83 451.30,338.83 451.50,338.84 451.70,338.84 451.90,338.84 452.10,338.84 452.30,338.84 452.50,338.84 452.70,338.85 452.90,338.85 453.10,338.85 453.30,338.85 453.50,338.85 453.70,338.85 453.90,338.85 454.10,338.86 454.30,338.86 454.50,338.86 454.70,338.86 454.90,338.86 455.10,338.86 455.30,338.86 455.50,338.87 455.70,338.87 455.90,338.87 456.10,338.87 456.30,338.87 456.50,338.87 456.70,338.88 456.90,338.88 457.10,338.88 457.30,338.88 457.50,338.88 457.70,338.88 457.90,338.88 458.10,338.89 458.30,338.89 458.50,338.89 458.70,338.89 458.90,338.89 459.10,338.89 459.30,338.89 459.50,338.90 459.70,338.90 459.90,338.90 460.10,338.90 460.30,338.90 460.50,338.90 460.70,338.91 460.90,338.91 461.10,338.91 461.30,338.91 461.50,338.91 461.70,338.91 461.90,338.91 462.10,338.92 462.30,338.92 462.50,338.92 462.70,338.92 462.90,338.92 463.10,338.92 463.30,338.92 463.50,338.93 463.70,338.93 463.90,338.93 464.10,338.93 464.30,338.92 464.50,338.91 464.70,338.88 464.90,338.81 465.10,338.68 465.30,338.44 465.50,338.06 465.70,337.50 465.90,336.78 466.10,335.94 466.30,335.11 466.50,334.43 466.70,334.05 466.80,334.00 466.90,334.05 467.10,334.44 467.30,335.12 467.50,335.95 467.70,336.79 467.90,337.52 468.10,338.08 468.30,338.46 468.50,338.70 468.70,338.84 468.90,338.91 469.10,338.95 469.30,338.96 469.50,338.97 469.70,338.97 469.90,338.97 470.10,338.98 470.30,338.98 470.50,338.98 470.70,338.98 470.90,338.98 471.10,338.98 471.30,338.98 471.50,338.99 471.70,338.99 471.90,338.99 472.10,338.99 472.30,338.99 472.50,338.99 472.70,339.00 472.90,339.00 473.10,339.00 473.30,339.00 473.50,339.00 473.70,339.00 473.90,339.00 474.10,339.01 474.30,339.01 474.50,339.01 474.70,339.01 474.90,339.01 475.10,339.01 475.30,339.01 475.50,339.02 475.70,339.02 475.90,339.02 476.10,339.02 476.30,339.02 476.50,339.02 476.70,339.03 476.90,339.03 477.10,339.03 477.30,339.03 477.50,339.03 477.70,339.03 477.90,339.03 478.10,339.04 478.30,339.04 478.50,339.04 478.70,339.04 478.90,339.04 479.10,339.04 479.30,339.04 479.50,339.05 479.70,339.05 479.90,339.05 480.10,339.05 480.30,339.05 480.50,339.05 480.70,339.06 480.90,339.06 481.10,339.06 481.30,339.06 481.50,339.06 481.70,339.06 481.90,339.06 482.10,339.07 482.30,339.07 482.50,339.07 482.70,339.07 482.90,339.07 483.10,339.07 483.30,339.07 483.50,339.08 483.70,339.08 483.90,339.08 484.10,339.08 484.30,339.08 484.50,339.08 484.70,339.09 484.90,339.09 485.10,339.09 485.30,339.09 485.50,339.09 485.70,339.09 485.90,339.09 486.10,339.10 486.30,339.10 486.50,339.10 486.70,339.10 486.90,339.10 487.10,339.10 487.30,339.10 487.50,339.11 487.70,339.11 487.90,339.11 488.10,339.11 488.30,339.11 488.50,339.11 488.70,339.12 488.90,339.12 489.10,339.12 489.30,339.12 489.50,339.12 489.70,339.12 489.90,339.12 490.10,339.13 490.30,339.13 490.50,339.13 490.70,339.13 490.90,339.13 491.10,339.13 491.30,339.13 491.50,339.14 491.70,339.14 491.90,339.14 492.10,339.14 492.30,339.14 492.50,339.14 492.70,339.15 492.90,339.15 493.10,339.15 493.30,339.15 493.50,339.15 493.70,339.15 493.90,339.15 494.10,339.16 494.30,339.16 494.50,339.16 494.70,339.16 494.90,339.16 495.10,339.16 495.30,339.16 495.50,339.17 495.70,339.17 495.90,339.17 496.10,339.17 496.30,339.17 496.50,339.17 496.70,339.18 496.90,339.18 497.10,339.18 497.30,339.18 497.50,339.18 497.70,339.18 497.90,339.18 498.10,339.19 498.30,339.19 498.50,339.19 498.70,339.19 498.90,339.19 499.10,339.19 499.30,339.19 499.50,339.20 499.70,339.20 499.90,339.20 500.10,339.20 500.30,339.20 500.50,339.20 500.70,339.21 500.90,339.21 501.10,339.21 501.30,339.21 501.50,339.21 501.70,339.21 501.90,339.22 502.10,339.22 502.30,339.22 502.50,339.22 502.70,339.22 502.90,339.22 503.10,339.22 503.30,339.23 503.50,339.23 503.70,339.23 503.90,339.23 504.10,339.23 504.30,339.23 504.50,339.24 504.70,339.24 504.90,339.24 505.10,339.24 505.30,339.24 505.50,339.24 505.70,339.25 505.90,339.25 506.10,339.25 506.30,339.25 506.50,339.25 506.70,339.25 506.90,339.26 507.10,339.26 507.30,339.26 507.50,339.26 507.70,339.26 507.90,339.26 508.10,339.26 508.30,339.27 508.50,339.27 508.70,339.27 508.90,339.27 509.10,339.27 509.30,339.27 509.50,339.28 509.70,339.28 509.90,339.28 510.10,339.28 510.30,339.28 510.50,339.28 510.70,339.29 510.90,339.29 511.10,339.29 511.30,339.29 511.50,339.29 511.70,339.29 511.90,339.30 512.10,339.30 512.30,339.30 512.50,339.30 512.70,339.30 512.90,339.30 513.10,339.30 513.30,339.31 513.50,339.31 513.70,339.31 513.90,339.31 514.10,339.31 514.30,339.31 514.50,339.32 514.70,339.32 514.90,339.32 515.10,339.32 515.30,339.32 515.50,339.32 515.70,339.33 515.90,339.33 516.10,339.33 516.30,339.33 516.50,339.33 516.70,339.33 516.90,339.34 517.10,339.34 517.30,339.34 517.50,339.34 517.70,339.34 517.90,339.34 518.10,339.34 518.30,339.35 518.50,339.35 518.70,339.35 518.90,339.35 519.10,339.35 519.30,339.35 519.50,339.36 519.70,339.36 519.90,339.36 520.10,339.36 520.30,339.36 520.50,339.36 520.70,339.37 520.90,339.37 521.10,339.37 521.30,339.37 521.50,339.37 521.70,339.37 521.90,339.38 522.10,339.38 522.30,339.38 522.50,339.38 522.70,339.38 522.90,339.38 523.10,339.38 523.30,339.39 523.50,339.39 523.70,339.39 523.90,339.39 524.10,339.39 524.30,339.39 524.50,339.40 524.70,339.40 524.90,339.40 525.10,339.40 525.30,339.40 525.50,339.40 525.70,339.41 525.90,339.41 526.10,339.41 526.30,339.41 526.50,339.41 526.70,339.41 526.90,339.42 527.10,339.42 527.30,339.42 527.50,339.42 527.70,339.42 527.90,339.42 528.10,339.42 528.30,339.43 528.50,339.43 528.70,339.43 528.90,339.43 529.10,339.43 529.30,339.43 529.50,339.44 529.70,339.44 529.90,339.44 530.10,339.44 530.30,339.44 530.50,339.44 530.70,339.45 530.90,339.45 531.10,339.45 531.30,339.45 531.50,339.45 531.70,339.45 531.90,339.46 532.10,339.46 532.30,339.46 532.50,339.46 532.70,339.46 532.90,339.46 533.10,339.46 533.30,339.47 533.50,339.47 533.70,339.47 533.90,339.47 534.10,339.47 534.30,339.47 534.50,339.48 534.70,339.48 534.90,339.48 535.10,339.48 535.30,339.48 535.50,339.48 535.70,339.49 535.90,339.49 536.10,339.49 536.30,339.49 536.50,339.49 536.70,339.49 536.90,339.50 537.10,339.50 537.30,339.50 537.50,339.50 537.70,339.50 537.90,339.50 538.10,339.50 538.30,339.51 538.50,339.51 538.70,339.51 538.90,339.51 539.10,339.51 539.30,339.51 539.50,339.52 539.70,339.52 539.90,339.52 540.10,339.52 540.30,339.52 540.50,339.52 540.70,339.53 540.90,339.53 541.10,339.53 541.30,339.53 541.50,339.53 541.70,339.53 541.90,339.54 542.10,339.54 542.30,339.54 542.50,339.54 542.70,339.54 542.90,339.54 543.10,339.54 543.30,339.55 543.50,339.55 543.70,339.55 543.90,339.55 544.10,339.55 544.30,339.55 544.50,339.56 544.70,339.56 544.90,339.56 545.10,339.56 545.30,339.56 545.50,339.56 545.70,339.57 545.90,339.57 546.10,339.57 546.30,339.57 546.50,339.57 546.70,339.57 546.90,339.58 547.10,339.58 547.30,339.58 547.50,339.58 547.70,339.58 547.90,339.58 548.10,339.58 548.30,339.59 548.50,339.59 548.70,339.59 548.90,339.59 549.10,339.59 549.30,339.59 549.50,339.60 549.70,339.60 549.90,339.60 550.10,339.60 550.30,339.60 550.50,339.60 550.70,339.61 550.90,339.61 551.10,339.61 551.30,339.61 551.50,339.61 551.70,339.61 551.90,339.62 552.10,339.62 552.30,339.62 552.50,339.62 552.70,339.62 552.90,339.62 553.10,339.62 553.30,339.63 553.50,339.63 553.70,339.63 553.90,339.63 554.10,339.63 554.30,339.63 554.50,339.64 554.70,339.64 554.90,339.64 555.10,339.64 555.30,339.64 555.50,339.64 555.70,339.65 555.90,339.65 556.10,339.65 556.30,339.65 556.50,339.65 556.70,339.65 556.90,339.66 557.10,339.66 557.30,339.66 557.50,339.66 557.70,339.66 557.90,339.66 558.10,339.66 558.30,339.67 558.50,339.67 558.70,339.67 558.90,339.67 559.10,339.67 559.30,339.67 559.50,339.68 559.70,339.68 559.90,339.68 560.10,339.68 560.30,339.68 560.50,339.68 560.70,339.69 560.90,339.69 561.10,339.69 561.30,339.69 561.50,339.69 561.70,339.69 561.90,339.70 562.10,339.70 562.30,339.70 562.50,339.70 562.70,339.70 562.90,339.70 563.10,339.70 563.30,339.71 563.50,339.71 563.70,339.71 563.90,339.71 564.10,339.71 564.30,339.71 564.50,339.72 564.70,339.72 564.90,339.72 565.10,339.72 565.30,339.72 565.50,339.72 565.70,339.73 565.90,339.73 566.10,339.73 566.30,339.73 566.50,339.73 566.70,339.73 566.90,339.74 567.10,339.74 567.30,339.74 567.50,339.74 567.70,339.74 567.90,339.74 568.10,339.74 568.30,339.75 568.50,339.75 568.70,339.75 568.90,339.75 569.10,339.75 569.30,339.75 569.50,339.76 569.70,339.76 569.90,339.76 570.10,339.76 570.30,339.76 570.50,339.76 570.70,339.77 570.90,339.77 571.10,339.77 571.30,339.77 571.50,339.77 571.70,339.77 571.90,339.78 572.10,339.78 572.30,339.78 572.50,339.78 572.70,339.78 572.90,339.78 573.10,339.78 573.30,339.79 573.50,339.79 573.70,339.79 573.90,339.79 574.10,339.79 574.30,339.79 574.50,339.80 574.70,339.80 574.90,339.80 575.10,339.80 575.30,339.80 575.50,339.80 575.70,339.81 575.90,339.81 576.10,339.81 576.30,339.81 576.50,339.81 576.70,339.81 576.90,339.82 577.10,339.82 577.30,339.82 577.50,339.82 577.70,339.82 577.90,339.82 578.10,339.82 578.30,339.83 578.50,339.83 578.70,339.83 578.90,339.83 579.10,339.83 579.30,339.83 579.50,339.84 579.70,339.84 579.90,339.84 580.10,339.84 580.30,339.84 580.50,339.84 580.70,339.85 580.90,339.85 581.10,339.85 581.30,339.85 581.50,339.85 581.70,339.85 581.90,339.86 582.10,339.86 582.30,339.86 582.50,339.86 582.70,339.86 582.90,339.86 583.10,339.86 583.30,339.87 583.50,339.87 583.70,339.87 583.90,339.87 584.10,339.87 584.30,339.87 584.50,339.88 584.70,339.88 584.90,339.88 585.10,339.88 585.30,339.88 585.50,339.88 585.70,339.89 585.90,339.89 586.10,339.89 586.30,339.89 586.50,339.89 586.70,339.89 586.90,339.90 587.10,339.90 587.30,339.90 587.50,339.90 587.70,339.90 587.90,339.90 588.10,339.90 588.30,339.91 588.50,339.91 588.70,339.91 588.90,339.91 589.10,339.91 589.30,339.91 589.50,339.92 589.70,339.92 589.90,339.92 590.10,339.92 590.30,339.92 590.50,339.92 590.70,339.93 590.90,339.93 591.10,339.93 591.30,339.93 591.50,339.93 591.70,339.93 591.90,339.94 592.10,339.94 592.30,339.94 592.50,339.94 592.70,339.94 592.90,339.94 593.10,339.94 593.30,339.95 593.50,339.95 593.70,339.95 593.90,339.95 594.10,339.95 594.30,339.95 594.50,339.96 594.70,339.96 594.90,339.96 595.10,339.96 595.30,339.96 595.50,339.96 595.70,339.97 595.90,339.97 596.10,339.97 596.30,339.97 596.50,339.97 596.70,339.97 596.90,339.98 597.10,339.98 597.30,339.98 597.50,339.98 597.70,339.98 597.90,339.98 598.10,339.98 598.30,339.99 598.50,339.99 598.70,339.99 598.90,339.99 599.10,339.99 599.30,339.99 599.50,340.00 599.70,340.00 599.90,340.00 600.10,340.00 600.30,340.00 600.50,340.00 600.70,340.00 600.90,340.01 601.10,340.01 601.30,340.01 601.50,340.01 601.70,340.01 601.90,340.01 602.10,340.01 602.30,340.02 602.50,340.02 602.70,340.02 602.90,340.02 603.10,340.02 603.30,340.02 603.50,340.02 603.70,340.01 603.90,339.98 604.10,339.87 604.30,339.58 604.50,338.87 604.70,337.36 604.90,334.53 605.10,329.90 605.30,323.33 605.50,315.39 605.70,307.50 605.90,301.59 606.10,299.40 606.30,301.60 606.50,307.50 606.70,315.40 606.90,323.34 607.10,329.92 607.30,334.55 607.50,337.38 607.70,338.89 607.90,339.60 608.10,339.90 608.30,340.01 608.50,340.05 608.70,340.06 608.90,340.06 609.10,340.06 609.30,340.07 609.50,340.07 609.70,340.07 609.90,340.07 610.10,340.07 610.30,340.07 610.50,340.07 610.70,340.08 610.90,340.08 611.10,340.08 611.30,340.08 611.50,340.08 611.70,340.08 611.90,340.08 612.10,340.09 612.30,340.09 612.50,340.09 612.70,340.09 612.90,340.09 613.10,340.09 613.30,340.09 613.50,340.10 613.70,340.10 613.90,340.10 614.10,340.10 614.30,340.10 614.50,340.10 614.70,340.10 614.90,340.11 615.10,340.11 615.30,340.11 615.50,340.11 615.70,340.11 615.90,340.11 616.10,340.11 616.30,340.12 616.50,340.12 616.70,340.12 616.90,340.12 617.10,340.12 617.30,340.12 617.50,340.12 617.70,340.12 617.90,340.13 618.10,340.13 618.30,340.13 618.50,340.13 618.70,340.13 618.90,340.13 619.10,340.13 619.30,340.14 619.50,340.14 619.70,340.14 619.90,340.14 620.10,340.14 620.30,340.14 620.50,340.14 620.70,340.15 620.90,340.15 621.10,340.15 621.30,340.15 621.50,340.15 621.70,340.15 621.90,340.15 622.10,340.16 622.30,340.16 622.50,340.16 622.70,340.16 622.90,340.16 623.10,340.16 623.30,340.16 623.50,340.17 623.70,340.17 623.90,340.17 624.10,340.17 624.30,340.17 624.50,340.17 624.70,340.17 624.90,340.18 625.10,340.18 625.30,340.18 625.50,340.18 625.70,340.18 625.90,340.18 626.10,340.18 626.30,340.19 626.50,340.19 626.70,340.19 626.90,340.19 627.10,340.19 627.30,340.19 627.50,340.19 627.70,340.20 627.90,340.20 628.10,340.20 628.30,340.20 628.50,340.20 628.70,340.20 628.90,340.20 629.10,340.21 629.30,340.21 629.50,340.21 629.70,340.21 629.90,340.21 630.10,340.21 630.30,340.21 630.50,340.22 630.70,340.22 630.90,340.22 631.10,340.22 631.30,340.22 631.50,340.22 631.70,340.22 631.90,340.23 632.10,340.23 632.30,340.23 632.50,340.23 632.70,340.23 632.90,340.23 633.10,340.23 633.30,340.24 633.50,340.24 633.70,340.24 633.90,340.24 634.10,340.24 634.30,340.24 634.50,340.24 634.70,340.24 634.90,340.25 635.10,340.25 635.30,340.25 635.50,340.25 635.70,340.25 635.90,340.25 636.10,340.25 636.30,340.26 636.50,340.26 636.70,340.26 636.90,340.26 637.10,340.26 637.30,340.26 637.50,340.26 637.70,340.27 637.90,340.27 638.10,340.27 638.30,340.27 638.50,340.27 638.70,340.27 638.90,340.27 639.10,340.28 639.30,340.28 639.50,340.28 639.70,340.28 639.90,340.28 640.10,340.28 640.30,340.28 640.50,340.29 640.70,340.29 640.90,340.29 641.10,340.29 641.30,340.29 641.50,340.29 641.70,340.29 641.90,340.30 642.10,340.30 642.30,340.30 642.50,340.30 642.70,340.30 642.90,340.30 643.10,340.30 643.30,340.31 643.50,340.31 643.70,340.31 643.90,340.31 644.10,340.31 644.30,340.31 644.50,340.31 644.70,340.32 644.90,340.32 645.10,340.32 645.30,340.32 645.50,340.32 645.70,340.32 645.90,340.32 646.10,340.33 646.30,340.33 646.50,340.33 646.70,340.33 646.90,340.33 647.10,340.33 647.30,340.33 647.50,340.34 647.70,340.34 647.90,340.34 648.10,340.34 648.30,340.34 648.50,340.34 648.70,340.34 648.90,340.35 649.10,340.35 649.30,340.35 649.50,340.35 649.70,340.35 649.90,340.35 650.10,340.35 650.30,340.36 650.50,340.36 650.70,340.36 650.90,340.36 651.10,340.36 651.30,340.36 651.50,340.36 651.70,340.36 651.90,340.37 652.10,340.37 652.30,340.37 652.50,340.37 652.70,340.37 652.90,340.37 653.10,340.37 653.30,340.38 653.50,340.38 653.70,340.38 653.90,340.38 654.10,340.38 654.30,340.38 654.50,340.38 654.70,340.39 654.90,340.39 655.10,340.39 655.30,340.39 655.50,340.39 655.70,340.39 655.90,340.39 656.10,340.40 656.30,340.40 656.50,340.40 656.70,340.40 656.90,340.40 657.10,340.40 657.30,340.40 657.50,340.41 657.70,340.41 657.90,340.41 658.10,340.41 658.30,340.41 658.50,340.41 658.70,340.41 658.90,340.42 659.10,340.42 659.30,340.42 659.50,340.42 659.70,340.42 659.90,340.42 660.10,340.42 660.30,340.43 660.50,340.43 660.70,340.43 660.90,340.43 661.10,340.43 661.30,340.43 661.50,340.43 661.70,340.44 661.90,340.44 662.10,340.44 662.30,340.44 662.50,340.44 662.70,340.44 662.90,340.44 663.10,340.45 663.30,340.45 663.50,340.45 663.70,340.45 663.90,340.45 664.10,340.45 664.30,340.45 664.50,340.46 664.70,340.46 664.90,340.46 665.10,340.46 665.30,340.46 665.50,340.46 665.70,340.46 665.90,340.47 666.10,340.47 666.30,340.47 666.50,340.47 666.70,340.47 666.90,340.47 667.10,340.47 667.30,340.48 667.50,340.48 667.70,340.48 667.90,340.48 668.10,340.48 668.30,340.48 668.50,340.48 668.70,340.48 668.90,340.49 669.10,340.49 669.30,340.49 669.50,340.49 669.70,340.49 669.90,340.49 670.10,340.49 670.30,340.50 670.50,340.50 670.70,340.50 670.90,340.50 671.10,340.50 671.30,340.50 671.50,340.50 671.70,340.51 671.90,340.51 672.10,340.51 672.30,340.51 672.50,340.51 672.70,340.51 672.90,340.51 673.10,340.52 673.30,340.52 673.50,340.52 673.70,340.52 673.90,340.52 674.10,340.52 674.30,340.52 674.50,340.53 674.70,340.53 674.90,340.53 675.10,340.53 675.30,340.53 675.50,340.53 675.70,340.53 675.90,340.54 676.10,340.54 676.30,340.54 676.50,340.54 676.70,340.54 676.90,340.54 677.10,340.54 677.30,340.55 677.50,340.55 677.70,340.55 677.90,340.55 678.10,340.55 678.30,340.55 678.50,340.55 678.70,340.56 678.90,340.56 679.10,340.56 679.30,340.56 679.50,340.56 679.70,340.56 679.90,340.56 680.10,340.57 680.30,340.57 680.50,340.57 680.70,340.57 680.90,340.57 681.10,340.57 681.30,340.57 681.50,340.58 681.70,340.58 681.90,340.58 682.10,340.58 682.30,340.58 682.50,340.58 682.70,340.58 682.90,340.59 683.10,340.59 683.30,340.59 683.50,340.59 683.70,340.59 683.90,340.59 684.10,340.59 684.30,340.60 684.50,340.60" fill="none" stroke="#f05050" stroke-width="1.5" stroke-linejoin="round"/>
<rect x="144.2" y="35.8" width="3.7" height="154" fill="#f47474"/>
<circle cx="151.35" cy="159.8" r="1.45" fill="#161616"/>
<circle cx="153.98" cy="154.0" r="1.45" fill="#161616"/>
<circle cx="156.48" cy="148.3" r="1.45" fill="#161616"/>
<circle cx="159.1" cy="142.5" r="1.45" fill="#161616"/>
<circle cx="161.8" cy="136.7" r="1.45" fill="#161616"/>
<line x1="148.4" y1="168" x2="148.4" y2="278" stroke="#f80808" stroke-width="2.0"/>
<clipPath id="cg"><rect x="0" y="300" width="685" height="354.3"/></clipPath>
<polyline clip-path="url(#cg)" points="66.90,444.50 67.10,442.69 67.30,440.88 67.50,439.06 67.70,437.25 67.90,435.44 68.10,433.63 68.30,431.81 68.50,430.00 68.70,428.62 68.90,427.25 69.10,425.87 69.30,424.49 69.50,423.12 69.70,421.74 69.90,420.36 70.10,418.99 70.30,417.90 70.50,417.09 70.70,416.28 70.90,415.48 71.10,414.67 71.30,413.86 71.50,413.06 71.70,412.25 71.90,411.44 72.10,410.63 72.30,409.83 72.50,409.02 72.70,408.21 72.90,407.41 73.10,406.60 73.30,406.19 73.50,405.78 73.70,405.37 73.90,404.96 74.10,404.55 74.30,404.14 74.50,403.73 74.70,403.32 74.90,440.05 75.10,514.06 75.30,588.32 75.50,662.74 75.70,700.00 75.90,700.00 76.10,700.00 76.30,700.00 76.50,700.00 76.70,700.00 76.90,700.00 77.10,700.00 77.30,700.00 77.50,700.00 77.70,700.00 77.90,700.00 78.10,700.00 78.30,700.00 78.50,700.00 78.70,624.26 78.90,548.36 79.10,472.32 79.30,396.12 79.50,395.81 79.70,395.51 79.90,395.20 80.10,394.90 80.30,394.29 80.50,393.68 80.70,393.07 80.90,392.47 81.10,391.86 81.30,391.25 81.50,390.64 81.70,390.03 81.90,389.42 82.10,388.81 82.30,388.20 82.50,387.80 82.70,387.60 82.90,387.40 83.10,387.20 83.30,387.00 83.50,386.80 83.70,386.53 83.90,386.20 84.10,385.87 84.30,385.54 84.50,385.21 84.70,384.88 84.90,384.55 85.10,384.21 85.30,383.88 85.50,383.55 85.70,383.22 85.90,382.89 86.10,382.56 86.30,382.23 86.50,381.89 86.70,381.56 86.90,381.23 87.10,380.90 87.30,380.69 87.50,380.48 87.70,380.27 87.90,380.07 88.10,379.86 88.30,379.65 88.50,379.44 88.70,379.23 88.90,379.03 89.10,378.83 89.30,378.64 89.50,378.51 89.70,378.47 89.90,378.57 90.10,378.91 90.30,379.52 90.50,380.39 90.70,381.37 90.90,382.20 91.10,382.62 91.20,382.60 91.30,382.42 91.50,381.62 91.70,380.40 91.90,379.03 92.10,377.77 92.30,376.77 92.50,376.05 92.70,375.55 92.90,375.20 93.10,374.98 93.30,374.84 93.50,374.72 93.70,374.60 93.90,374.48 94.10,374.37 94.30,374.25 94.50,374.14 94.70,374.02 94.90,373.91 95.10,373.79 95.30,373.68 95.50,373.56 95.70,373.45 95.90,373.33 96.10,373.22 96.30,373.10 96.50,372.99 96.70,372.87 96.90,372.76 97.10,372.65 97.30,372.54 97.50,372.43 97.70,372.32 97.90,372.24 98.10,372.22 98.30,372.35 98.50,372.83 98.70,373.89 98.90,375.68 99.10,378.05 99.30,380.40 99.50,381.84 99.60,382.00 99.70,381.73 99.90,380.07 100.10,377.51 100.30,374.92 100.50,372.91 100.70,371.63 100.90,370.93 101.10,370.58 101.30,370.38 101.50,370.25 101.70,370.13 101.90,370.02 102.10,369.91 102.30,369.80 102.50,369.69 102.70,369.58 102.90,369.47 103.10,369.36 103.30,369.25 103.50,369.14 103.70,369.03 103.90,368.93 104.10,368.82 104.30,368.71 104.50,368.60 104.70,368.49 104.90,368.38 105.10,368.27 105.30,368.16 105.50,368.05 105.70,367.94 105.90,367.83 106.10,367.72 106.30,367.61 106.50,367.50 106.70,367.39 106.90,367.28 107.10,367.18 107.30,367.07 107.50,366.96 107.70,366.85 107.90,366.74 108.10,366.63 108.30,366.52 108.50,366.41 108.70,366.30 108.90,366.26 109.10,366.21 109.30,366.17 109.50,366.12 109.70,366.08 109.90,366.04 110.10,365.99 110.30,365.95 110.50,365.90 110.70,365.86 110.90,365.82 111.10,365.77 111.30,365.73 111.50,365.69 111.70,365.64 111.90,365.60 112.10,365.55 112.30,365.51 112.50,365.47 112.70,365.42 112.90,365.38 113.10,365.33 113.30,365.29 113.50,365.25 113.70,365.20 113.90,365.16 114.10,365.11 114.30,365.07 114.50,365.03 114.70,364.98 114.90,364.94 115.10,364.90 115.30,364.85 115.50,364.81 115.70,364.76 115.90,364.72 116.10,364.68 116.30,364.63 116.50,364.59 116.70,364.55 116.90,364.50 117.10,364.51 117.30,364.54 117.50,364.59 117.70,364.69 117.90,364.87 118.10,365.15 118.30,365.51 118.50,365.91 118.70,366.26 118.90,366.47 119.00,366.50 119.10,366.47 119.30,366.26 119.50,365.91 119.70,365.51 119.90,365.15 120.10,364.87 120.30,364.69 120.50,364.59 120.70,364.54 120.90,364.51 121.10,364.50 121.30,364.50 121.50,364.50 121.70,364.46 121.90,364.37 122.10,364.28 122.30,364.20 122.50,364.11 122.70,364.03 122.90,363.94 123.10,363.85 123.30,363.77 123.50,363.68 123.70,363.59 123.90,363.51 124.10,363.42 124.30,363.34 124.50,363.25 124.70,363.16 124.90,363.08 125.10,362.99 125.30,362.91 125.50,362.82 125.70,362.73 125.90,362.65 126.10,362.56 126.30,362.47 126.50,362.39 126.70,362.30 126.90,362.22 127.10,362.13 127.30,362.04 127.50,361.99 127.70,361.98 127.90,361.97 128.10,361.96 128.30,361.95 128.50,361.94 128.70,404.18 128.90,488.70 129.10,573.21 129.30,657.74 129.50,700.00 129.70,700.00 129.90,700.00 130.10,700.00 130.30,700.00 130.50,700.00 130.70,700.00 130.90,700.00 131.10,700.00 131.30,700.00 131.50,700.00 131.70,700.00 131.90,700.00 132.10,657.72 132.30,573.14 132.50,488.57 132.70,403.99 132.90,361.69 133.10,361.67 133.30,361.66 133.50,361.65 133.70,361.64 133.90,361.63 134.10,361.62 134.30,361.61 134.50,361.58 134.70,361.53 134.90,361.48 135.10,361.43 135.30,361.38 135.50,361.33 135.70,361.28 135.90,361.24 136.10,361.19 136.30,361.14 136.50,361.09 136.70,361.04 136.90,360.99 137.10,360.94 137.30,360.90 137.50,360.85 137.70,360.80 137.90,360.75 138.10,360.70 138.30,360.65 138.50,360.60 138.70,360.56 138.90,360.51 139.10,360.46 139.30,360.41 139.50,360.36 139.70,360.31 139.90,360.26 140.10,360.22 140.30,360.17 140.50,360.12 140.70,360.07 140.90,360.02 141.10,359.97 141.30,359.92 141.50,359.87 141.70,359.81 141.90,359.74 142.10,359.68 142.30,359.62 142.50,359.55 142.70,359.49 142.90,359.43 143.10,359.36 143.30,359.30 143.50,359.33 143.70,359.36 143.90,359.39 144.10,359.45 144.30,359.58 144.50,359.97 144.70,361.07 144.90,363.76 145.10,369.57 145.30,380.33 145.50,397.23 145.70,419.41 145.90,442.86 146.10,461.14 146.30,468.10 146.50,461.19 146.70,442.97 146.90,419.59 147.10,397.50 147.30,380.74 147.50,370.26 147.70,364.97 147.90,363.21 148.10,363.61 148.30,365.31 148.50,367.69 148.70,370.14 148.90,371.99 149.10,372.70 149.30,372.05 149.50,370.24 149.70,367.82 149.90,365.38 150.10,363.37 150.30,361.96 150.50,361.11 150.70,360.67 150.90,360.47 151.10,360.41 151.30,360.40 151.50,360.38 151.70,360.32 151.90,360.27 152.10,360.21 152.30,360.16 152.50,360.11 152.70,360.05 152.90,360.00 153.10,359.95 153.30,359.89 153.50,359.84 153.70,359.78 153.90,359.73 154.10,359.68 154.30,359.62 154.50,359.57 154.70,359.52 154.90,359.46 155.10,359.41 155.30,359.36 155.50,359.30 155.70,359.25 155.90,359.20 156.10,359.14 156.30,359.09 156.50,359.04 156.70,358.98 156.90,358.93 157.10,358.88 157.30,358.82 157.50,358.77 157.70,358.72 157.90,358.66 158.10,358.61 158.30,358.55 158.50,358.50 158.70,358.45 158.90,358.39 159.10,358.34 159.30,358.29 159.50,358.23 159.70,358.18 159.90,358.13 160.10,358.09 160.30,358.08 160.50,358.06 160.70,358.05 160.90,358.03 161.10,358.02 161.30,358.00 161.50,357.99 161.70,357.98 161.90,357.96 162.10,357.95 162.30,357.93 162.50,357.92 162.70,357.90 162.90,357.89 163.10,357.87 163.30,357.86 163.50,357.84 163.70,357.83 163.90,357.82 164.10,357.81 164.30,357.82 164.50,357.86 164.70,357.96 164.90,358.14 165.10,358.42 165.30,358.79 165.50,359.21 165.70,359.57 165.90,359.78 166.00,359.80 166.10,359.76 166.30,359.53 166.50,359.14 166.70,358.69 166.90,358.29 167.10,357.98 167.30,357.77 167.50,357.64 167.70,357.57 167.90,357.53 168.10,357.51 168.30,357.49 168.50,357.48 168.70,357.46 168.90,357.45 169.10,357.43 169.30,357.42 169.50,357.40 169.70,357.39 169.90,357.37 170.10,357.36 170.30,357.34 170.50,357.33 170.70,357.32 170.90,357.30 171.10,357.29 171.30,357.27 171.50,357.26 171.70,357.24 171.90,357.23 172.10,357.21 172.30,357.20 172.50,357.18 172.70,357.17 172.90,357.15 173.10,357.14 173.30,357.12 173.50,357.11 173.70,357.10 173.90,357.08 174.10,357.07 174.30,357.05 174.50,357.04 174.70,357.02 174.90,357.01 175.10,357.00 175.30,357.00 175.50,357.00 175.70,357.00 175.90,357.00 176.10,442.75 176.30,528.50 176.50,614.25 176.70,700.00 176.90,700.00 177.10,700.00 177.30,700.00 177.50,700.00 177.70,614.25 177.90,528.50 178.10,442.75 178.30,357.00 178.50,357.00 178.70,357.00 178.90,357.00 179.10,357.00 179.30,357.00 179.50,357.00 179.70,357.00 179.90,357.00 180.10,356.98 180.30,356.95 180.50,356.91 180.70,356.87 180.90,356.84 181.10,356.80 181.30,356.77 181.50,356.73 181.70,356.69 181.90,356.66 182.10,356.62 182.30,356.59 182.50,356.55 182.70,356.51 182.90,356.48 183.10,356.44 183.30,356.41 183.50,356.37 183.70,356.33 183.90,356.30 184.10,356.26 184.30,356.23 184.50,356.19 184.70,356.15 184.90,356.12 185.10,356.08 185.30,356.05 185.50,356.01 185.70,355.97 185.90,355.94 186.10,355.90 186.30,355.87 186.50,355.83 186.70,355.79 186.90,355.76 187.10,355.72 187.30,355.69 187.50,355.65 187.70,355.61 187.90,355.58 188.10,355.54 188.30,355.51 188.50,355.47 188.70,355.43 188.90,355.40 189.10,355.36 189.30,355.33 189.50,355.29 189.70,355.25 189.90,355.22 190.10,355.19 190.30,355.17 190.50,355.14 190.70,355.12 190.90,355.10 191.10,355.07 191.30,355.05 191.50,355.03 191.70,355.00 191.90,354.98 192.10,354.96 192.30,354.93 192.50,354.91 192.70,354.89 192.90,354.87 193.10,354.84 193.30,354.82 193.50,354.80 193.70,354.77 193.90,354.75 194.10,354.73 194.30,354.70 194.50,354.68 194.70,354.66 194.90,354.63 195.10,354.61 195.30,354.63 195.50,354.70 195.70,354.81 195.90,355.06 196.10,355.76 196.30,357.67 196.50,362.14 196.70,370.97 196.90,385.31 197.10,403.98 197.30,422.45 197.50,434.18 197.60,435.80 197.70,434.24 197.90,422.63 198.10,404.28 198.30,385.73 198.50,371.51 198.70,362.80 198.90,358.44 199.10,356.66 199.30,356.07 199.50,355.94 199.70,355.95 199.90,356.00 200.10,355.97 200.30,355.94 200.50,355.91 200.70,355.88 200.90,355.85 201.10,355.82 201.30,355.79 201.50,355.76 201.70,355.73 201.90,355.70 202.10,355.67 202.30,355.64 202.50,355.61 202.70,355.58 202.90,355.55 203.10,355.52 203.30,355.49 203.50,355.46 203.70,355.43 203.90,355.40 204.10,355.37 204.30,355.34 204.50,355.31 204.70,355.28 204.90,355.25 205.10,355.22 205.30,355.20 205.50,355.19 205.70,355.18 205.90,355.17 206.10,355.20 206.30,355.35 206.50,355.86 206.70,357.26 206.90,360.31 207.10,365.48 207.30,372.09 207.50,377.94 207.70,380.30 207.90,377.92 208.10,372.05 208.30,365.42 208.50,360.23 208.70,357.16 208.90,355.74 209.10,355.21 209.30,355.05 209.50,354.99 209.70,354.97 209.90,355.00 210.10,355.17 210.30,355.87 210.50,358.03 210.70,363.30 210.90,373.41 211.10,388.39 211.30,404.63 211.50,415.49 211.60,417.00 211.70,415.47 211.90,404.58 212.10,388.31 212.30,373.29 212.50,363.14 212.70,357.84 212.90,355.65 213.10,354.91 213.30,354.70 213.50,354.64 213.70,354.62 213.90,354.60 214.10,354.65 214.30,354.71 214.50,354.76 214.70,354.82 214.90,354.87 215.10,354.89 215.30,354.88 215.50,354.86 215.70,354.84 215.90,354.83 216.10,354.81 216.30,354.80 216.50,354.78 216.70,354.76 216.90,354.75 217.10,354.73 217.30,354.72 217.50,354.70 217.70,354.70 217.90,354.73 218.10,354.84 218.30,355.17 218.50,355.91 218.70,357.26 218.90,359.24 219.10,361.51 219.30,363.38 219.50,364.10 219.70,363.35 219.90,361.45 220.10,359.15 220.30,357.13 220.50,355.75 220.70,354.98 220.90,354.62 221.10,354.47 221.30,354.41 221.50,354.38 221.70,354.36 221.90,354.35 222.10,354.33 222.30,354.32 222.50,354.30 222.70,354.28 222.90,354.27 223.10,354.25 223.30,354.24 223.50,354.22 223.70,354.20 223.90,354.19 224.10,354.17 224.30,354.16 224.50,354.15 224.70,354.17 224.90,354.24 225.10,354.44 225.30,354.85 225.50,355.52 225.70,356.41 225.90,357.28 226.10,357.83 226.20,357.90 226.30,357.81 226.50,357.23 226.70,356.33 226.90,355.41 227.10,354.70 227.30,354.26 227.50,354.03 227.70,353.93 227.90,353.88 228.10,353.85 228.30,353.84 228.50,353.82 228.70,353.80 228.90,353.79 229.10,353.77 229.30,353.76 229.50,353.74 229.70,353.72 229.90,353.71 230.10,353.69 230.30,353.68 230.50,353.66 230.70,353.64 230.90,353.63 231.10,353.61 231.30,353.60 231.50,353.58 231.70,353.56 231.90,353.55 232.10,353.53 232.30,353.52 232.50,353.50 232.70,353.48 232.90,353.47 233.10,353.45 233.30,353.44 233.50,353.42 233.70,353.40 233.90,353.39 234.10,353.37 234.30,353.36 234.50,353.34 234.70,353.32 234.90,353.31 235.10,353.29 235.30,353.28 235.50,353.26 235.70,353.24 235.90,353.23 236.10,353.21 236.30,353.20 236.50,353.18 236.70,353.16 236.90,353.15 237.10,353.13 237.30,353.12 237.50,353.10 237.70,353.08 237.90,353.07 238.10,353.05 238.30,353.04 238.50,353.02 238.70,353.00 238.90,352.99 239.10,352.97 239.30,352.96 239.50,352.94 239.70,352.92 239.90,352.91 240.10,352.90 240.30,352.90 240.50,352.90 240.70,352.90 240.90,352.90 241.10,352.90 241.30,352.93 241.50,353.00 241.70,353.18 241.90,353.53 242.10,354.10 242.30,354.84 242.50,355.57 242.70,356.04 242.80,356.10 242.90,356.04 243.10,355.57 243.30,354.83 243.50,354.09 243.70,353.52 243.90,353.16 244.10,352.99 244.30,352.91 244.50,352.88 244.70,352.88 244.90,352.87 245.10,352.87 245.30,352.87 245.50,352.87 245.70,352.87 245.90,352.87 246.10,352.87 246.30,352.87 246.50,352.86 246.70,352.86 246.90,352.86 247.10,352.86 247.30,352.86 247.50,352.86 247.70,352.86 247.90,352.86 248.10,352.86 248.30,352.85 248.50,352.85 248.70,352.85 248.90,352.85 249.10,352.85 249.30,352.85 249.50,352.85 249.70,352.85 249.90,352.84 250.10,352.84 250.30,352.84 250.50,352.84 250.70,352.84 250.90,352.84 251.10,352.84 251.30,352.84 251.50,352.84 251.70,352.83 251.90,352.83 252.10,352.83 252.30,352.83 252.50,352.83 252.70,352.83 252.90,352.83 253.10,352.83 253.30,352.83 253.50,352.82 253.70,352.82 253.90,352.82 254.10,352.82 254.30,352.82 254.50,352.82 254.70,352.82 254.90,352.82 255.10,352.82 255.30,352.81 255.50,352.81 255.70,352.81 255.90,352.81 256.10,352.81 256.30,352.81 256.50,352.81 256.70,352.81 256.90,352.81 257.10,352.81 257.30,352.83 257.50,352.90 257.70,353.08 257.90,353.46 258.10,354.18 258.30,355.25 258.50,356.47 258.70,357.48 258.90,357.90 259.10,357.57 259.30,356.66 259.50,355.54 259.70,354.57 259.90,353.92 260.10,353.58 260.30,353.45 260.50,353.44 260.70,353.46 260.90,353.51 261.10,353.55 261.30,353.60 261.50,353.65 261.70,353.70 261.90,353.75 262.10,353.79 262.30,353.84 262.50,353.89 262.70,353.94 262.90,353.99 263.10,354.04 263.30,354.09 263.50,354.13 263.70,354.18 263.90,354.23 264.10,354.28 264.30,354.33 264.50,354.38 264.70,354.43 264.90,354.47 265.10,354.52 265.30,440.93 265.50,527.31 265.70,613.67 265.90,700.00 266.10,700.00 266.30,700.00 266.50,700.00 266.70,700.00 266.90,700.00 267.10,700.00 267.30,700.00 267.50,700.00 267.70,700.00 267.90,700.00 268.10,700.00 268.30,700.00 268.50,700.00 268.70,700.00 268.90,613.86 269.10,527.75 269.30,441.66 269.50,355.59 269.70,355.64 269.90,355.69 270.10,355.74 270.30,355.78 270.50,355.83 270.70,355.88 270.90,355.93 271.10,355.98 271.30,356.03 271.50,356.08 271.70,356.02 271.90,355.85 272.10,355.68 272.30,355.52 272.50,355.35 272.70,355.18 272.90,355.02 273.10,354.85 273.30,354.68 273.50,354.52 273.70,354.35 273.90,354.18 274.10,354.02 274.30,353.85 274.50,353.68 274.70,353.59 274.90,353.57 275.10,353.54 275.30,353.52 275.50,353.50 275.70,353.48 275.90,353.46 276.10,353.43 276.30,353.41 276.50,353.39 276.70,353.37 276.90,353.35 277.10,353.32 277.30,353.30 277.50,353.28 277.70,353.26 277.90,353.24 278.10,353.21 278.30,353.19 278.50,353.17 278.70,353.15 278.90,353.14 279.10,353.17 279.30,353.32 279.50,353.80 279.70,354.97 279.90,357.33 280.10,361.17 280.30,366.18 280.50,371.14 280.70,374.28 280.80,374.70 280.90,374.26 281.10,371.08 281.30,366.07 281.50,361.01 281.70,357.13 281.90,354.73 282.10,353.51 282.30,352.99 282.50,352.80 282.70,352.72 282.90,352.69 283.10,352.66 283.30,352.64 283.50,352.62 283.70,352.60 283.90,352.57 284.10,352.55 284.30,352.53 284.50,352.51 284.70,352.49 284.90,352.46 285.10,352.44 285.30,352.42 285.50,352.40 285.70,352.37 285.90,352.35 286.10,352.33 286.30,352.31 286.50,352.29 286.70,352.26 286.90,352.24 287.10,352.22 287.30,352.20 287.50,352.18 287.70,352.15 287.90,352.13 288.10,352.11 288.30,352.09 288.50,352.07 288.70,352.04 288.90,352.02 289.10,352.00 289.30,351.98 289.50,351.96 289.70,351.93 289.90,351.91 290.10,351.90 290.30,351.89 290.50,351.88 290.70,351.88 290.90,351.87 291.10,351.87 291.30,351.86 291.50,351.85 291.70,351.85 291.90,351.84 292.10,351.84 292.30,351.83 292.50,351.82 292.70,351.82 292.90,351.81 293.10,351.81 293.30,351.80 293.50,351.79 293.70,351.79 293.90,351.78 294.10,351.78 294.30,351.77 294.50,351.76 294.70,351.76 294.90,351.75 295.10,351.75 295.30,351.74 295.50,351.73 295.70,351.73 295.90,351.72 296.10,351.72 296.30,351.71 296.50,351.70 296.70,351.70 296.90,351.69 297.10,351.69 297.30,351.68 297.50,351.67 297.70,351.67 297.90,351.66 298.10,351.66 298.30,351.65 298.50,351.64 298.70,351.64 298.90,351.63 299.10,351.63 299.30,351.62 299.50,351.62 299.70,351.61 299.90,351.60 300.10,351.60 300.30,351.61 300.50,351.63 300.70,351.71 300.90,351.88 301.10,352.24 301.30,352.88 301.50,353.85 301.70,355.13 301.90,356.54 302.10,357.78 302.30,358.51 302.40,358.60 302.50,358.50 302.70,357.76 302.90,356.51 303.10,355.09 303.30,353.80 303.50,352.81 303.70,352.17 303.90,351.79 304.10,351.60 304.30,351.52 304.50,351.48 304.70,351.46 304.90,351.45 305.10,351.45 305.30,351.44 305.50,351.44 305.70,351.43 305.90,351.42 306.10,351.42 306.30,351.41 306.50,351.40 306.70,351.40 306.90,351.39 307.10,351.39 307.30,351.38 307.50,351.38 307.70,351.37 307.90,351.36 308.10,351.36 308.30,351.35 308.50,351.34 308.70,351.34 308.90,351.33 309.10,351.33 309.30,351.32 309.50,351.31 309.70,351.31 309.90,351.30 310.10,351.30 310.30,351.29 310.50,351.28 310.70,351.28 310.90,351.27 311.10,351.27 311.30,351.26 311.50,351.25 311.70,351.25 311.90,351.24 312.10,351.24 312.30,351.23 312.50,351.23 312.70,351.22 312.90,351.21 313.10,351.21 313.30,351.20 313.50,351.19 313.70,351.19 313.90,351.18 314.10,351.18 314.30,351.17 314.50,351.17 314.70,351.16 314.90,351.15 315.10,351.15 315.30,351.14 315.50,351.13 315.70,351.13 315.90,351.12 316.10,351.12 316.30,351.11 316.50,351.11 316.70,351.10 316.90,351.09 317.10,351.09 317.30,351.08 317.50,351.07 317.70,351.07 317.90,351.06 318.10,351.06 318.30,351.05 318.50,351.05 318.70,351.04 318.90,351.03 319.10,351.03 319.30,351.02 319.50,351.01 319.70,351.01 319.90,351.00 320.10,351.00 320.30,350.99 320.50,350.99 320.70,350.99 320.90,350.98 321.10,350.98 321.30,350.97 321.50,350.97 321.70,350.97 321.90,350.96 322.10,350.96 322.30,350.95 322.50,350.95 322.70,350.95 322.90,350.94 323.10,350.94 323.30,350.93 323.50,350.93 323.70,350.93 323.90,350.92 324.10,350.92 324.30,350.91 324.50,350.91 324.70,350.91 324.90,350.90 325.10,350.90 325.30,350.89 325.50,350.89 325.70,350.89 325.90,350.90 326.10,350.92 326.30,351.00 326.50,351.18 326.70,351.54 326.90,352.18 327.10,353.15 327.30,354.43 327.50,355.84 327.70,357.08 327.90,357.80 328.00,357.90 328.10,357.80 328.30,357.06 328.50,355.82 328.70,354.40 328.90,353.11 329.10,352.13 329.30,351.49 329.50,351.12 329.70,350.93 329.90,350.85 330.10,350.81 330.30,350.80 330.50,350.79 330.70,350.79 330.90,350.78 331.10,350.78 331.30,350.77 331.50,350.77 331.70,350.77 331.90,350.76 332.10,350.76 332.30,350.75 332.50,350.75 332.70,350.75 332.90,350.74 333.10,350.74 333.30,350.73 333.50,350.73 333.70,350.73 333.90,350.72 334.10,350.72 334.30,350.71 334.50,350.71 334.70,350.71 334.90,350.70 335.10,350.70 335.30,350.69 335.50,350.69 335.70,350.69 335.90,350.68 336.10,350.68 336.30,350.67 336.50,350.67 336.70,350.67 336.90,350.66 337.10,350.66 337.30,350.65 337.50,350.65 337.70,350.65 337.90,350.64 338.10,350.64 338.30,350.63 338.50,350.63 338.70,350.63 338.90,350.62 339.10,350.62 339.30,350.61 339.50,350.61 339.70,350.61 339.90,350.60 340.10,350.60 340.30,350.59 340.50,350.59 340.70,350.59 340.90,350.58 341.10,350.58 341.30,350.57 341.50,350.57 341.70,350.57 341.90,350.56 342.10,350.56 342.30,350.55 342.50,350.55 342.70,350.55 342.90,350.54 343.10,350.54 343.30,350.53 343.50,350.53 343.70,350.53 343.90,350.52 344.10,350.52 344.30,350.51 344.50,350.51 344.70,350.51 344.90,350.51 345.10,350.52 345.30,350.60 345.50,350.87 345.70,351.65 345.90,353.53 346.10,357.26 346.30,363.33 346.50,371.24 346.70,379.07 346.90,384.02 347.00,384.70 347.10,384.02 347.30,379.06 347.50,371.22 347.70,363.31 347.90,357.23 348.10,353.50 348.30,351.62 348.50,350.83 348.70,350.55 348.90,350.47 349.10,350.44 349.30,350.44 349.50,350.43 349.70,350.43 349.90,350.43 350.10,350.42 350.30,350.42 350.50,350.42 350.70,350.41 350.90,350.41 351.10,350.41 351.30,350.41 351.50,350.40 351.70,350.40 351.90,350.40 352.10,350.39 352.30,350.39 352.50,350.39 352.70,350.38 352.90,350.38 353.10,350.38 353.30,350.38 353.50,350.37 353.70,350.37 353.90,350.37 354.10,350.36 354.30,350.36 354.50,350.36 354.70,350.35 354.90,350.35 355.10,350.35 355.30,350.35 355.50,350.34 355.70,350.34 355.90,350.34 356.10,350.33 356.30,350.33 356.50,350.33 356.70,350.35 356.90,350.39 357.10,350.51 357.30,350.73 357.50,351.10 357.70,351.58 357.90,352.06 358.10,352.36 358.20,352.40 358.30,352.36 358.50,352.05 358.70,351.57 358.90,351.08 359.10,350.70 359.30,350.47 359.50,350.35 359.70,350.30 359.90,350.28 360.10,350.28 360.30,350.27 360.50,350.27 360.70,350.26 360.90,350.26 361.10,350.26 361.30,350.26 361.50,350.25 361.70,350.25 361.90,350.25 362.10,350.24 362.30,350.24 362.50,350.24 362.70,350.23 362.90,350.23 363.10,350.23 363.30,350.23 363.50,350.22 363.70,350.22 363.90,350.22 364.10,350.21 364.30,350.21 364.50,350.21 364.70,350.20 364.90,350.20 365.10,350.20 365.30,350.20 365.50,350.19 365.70,350.19 365.90,350.19 366.10,350.18 366.30,350.18 366.50,350.18 366.70,350.18 366.90,350.18 367.10,350.19 367.30,350.25 367.50,350.45 367.70,350.98 367.90,352.14 368.10,354.23 368.30,357.29 368.50,360.79 368.70,363.68 368.90,364.80 369.10,363.67 369.30,360.78 369.50,357.27 369.70,354.21 369.90,352.11 370.10,350.95 370.30,350.41 370.50,350.21 370.70,350.14 370.90,350.12 371.10,350.11 371.30,350.11 371.50,350.10 371.70,350.10 371.90,350.10 372.10,350.09 372.30,350.09 372.50,350.09 372.70,350.08 372.90,350.08 373.10,350.08 373.30,350.08 373.50,350.07 373.70,350.07 373.90,350.07 374.10,350.06 374.30,350.06 374.50,350.06 374.70,350.05 374.90,350.05 375.10,350.05 375.30,350.05 375.50,350.04 375.70,350.04 375.90,350.04 376.10,350.03 376.30,350.03 376.50,350.03 376.70,350.02 376.90,350.02 377.10,350.02 377.30,350.02 377.50,350.01 377.70,350.01 377.90,350.01 378.10,350.00 378.30,350.00 378.50,350.00 378.70,349.99 378.90,349.99 379.10,349.99 379.30,349.99 379.50,349.98 379.70,349.98 379.90,349.98 380.10,349.97 380.30,349.97 380.50,349.97 380.70,349.96 380.90,349.96 381.10,349.96 381.30,349.96 381.50,349.95 381.70,349.95 381.90,349.95 382.10,349.94 382.30,349.94 382.50,349.94 382.70,349.93 382.90,349.93 383.10,349.93 383.30,349.93 383.50,349.92 383.70,349.92 383.90,349.92 384.10,349.91 384.30,349.91 384.50,349.91 384.70,349.90 384.90,349.90 385.10,349.90 385.30,349.90 385.50,349.90 385.70,349.89 385.90,349.89 386.10,349.89 386.30,349.89 386.50,349.89 386.70,349.89 386.90,349.89 387.10,349.88 387.30,349.88 387.50,349.88 387.70,349.88 387.90,349.88 388.10,349.88 388.30,349.88 388.50,349.87 388.70,349.87 388.90,349.87 389.10,349.87 389.30,349.87 389.50,349.87 389.70,349.86 389.90,349.86 390.10,349.86 390.30,349.86 390.50,349.86 390.70,349.86 390.90,349.86 391.10,349.85 391.30,349.85 391.50,349.85 391.70,349.85 391.90,349.85 392.10,349.85 392.30,349.84 392.50,349.84 392.70,349.84 392.90,349.84 393.10,349.84 393.30,349.84 393.50,349.84 393.70,349.83 393.90,349.83 394.10,349.83 394.30,349.83 394.50,349.83 394.70,349.83 394.90,349.83 395.10,349.82 395.30,349.82 395.50,349.82 395.70,349.82 395.90,349.82 396.10,349.82 396.30,349.81 396.50,349.81 396.70,349.81 396.90,349.81 397.10,349.81 397.30,349.81 397.50,349.81 397.70,349.80 397.90,349.80 398.10,349.80 398.30,349.80 398.50,349.80 398.70,349.80 398.90,349.79 399.10,349.79 399.30,349.79 399.50,349.79 399.70,349.79 399.90,349.79 400.10,349.79 400.30,349.78 400.50,349.78 400.70,349.78 400.90,349.78 401.10,349.78 401.30,349.78 401.50,349.78 401.70,349.77 401.90,349.77 402.10,349.77 402.30,349.77 402.50,349.77 402.70,349.77 402.90,349.76 403.10,349.76 403.30,349.76 403.50,349.76 403.70,349.76 403.90,349.76 404.10,349.76 404.30,349.75 404.50,349.75 404.70,349.75 404.90,349.75 405.10,349.75 405.30,349.75 405.50,349.74 405.70,349.74 405.90,349.74 406.10,349.74 406.30,349.74 406.50,349.74 406.70,349.74 406.90,349.73 407.10,349.73 407.30,349.73 407.50,349.73 407.70,349.73 407.90,349.73 408.10,349.73 408.30,349.72 408.50,349.72 408.70,349.72 408.90,349.72 409.10,349.72 409.30,349.72 409.50,349.71 409.70,349.71 409.90,349.71 410.10,349.71 410.30,349.71 410.50,349.71 410.70,349.71 410.90,349.70 411.10,349.70 411.30,349.70 411.50,349.70 411.70,349.70 411.90,349.70 412.10,349.69 412.30,349.69 412.50,349.69 412.70,349.69 412.90,349.69 413.10,349.69 413.30,349.69 413.50,349.68 413.70,349.68 413.90,349.68 414.10,349.68 414.30,349.68 414.50,349.68 414.70,349.68 414.90,349.67 415.10,349.67 415.30,349.67 415.50,349.67 415.70,349.67 415.90,349.67 416.10,349.66 416.30,349.66 416.50,349.66 416.70,349.66 416.90,349.66 417.10,349.66 417.30,349.66 417.50,349.65 417.70,349.65 417.90,349.65 418.10,349.65 418.30,349.66 418.50,349.67 418.70,349.70 418.90,349.74 419.10,349.83 419.30,349.97 419.50,350.19 419.70,350.48 419.90,350.87 420.10,351.32 420.30,351.80 420.50,352.24 420.70,352.59 420.90,352.78 421.00,352.80 421.10,352.77 421.30,352.58 421.50,352.23 421.70,351.79 421.90,351.31 422.10,350.85 422.30,350.46 422.50,350.16 422.70,349.95 422.90,349.80 423.10,349.71 423.30,349.66 423.50,349.63 423.70,349.62 423.90,349.61 424.10,349.61 424.30,349.60 424.50,349.60 424.70,349.60 424.90,349.60 425.10,349.60 425.30,349.60 425.50,349.59 425.70,349.59 425.90,349.59 426.10,349.59 426.30,349.59 426.50,349.59 426.70,349.58 426.90,349.58 427.10,349.58 427.30,349.58 427.50,349.58 427.70,349.58 427.90,349.58 428.10,349.57 428.30,349.57 428.50,349.57 428.70,349.57 428.90,349.57 429.10,349.57 429.30,349.56 429.50,349.56 429.70,349.56 429.90,349.56 430.10,349.56 430.30,349.56 430.50,349.56 430.70,349.55 430.90,349.55 431.10,349.55 431.30,349.55 431.50,349.55 431.70,349.55 431.90,349.55 432.10,349.54 432.30,349.54 432.50,349.54 432.70,349.54 432.90,349.54 433.10,349.54 433.30,349.53 433.50,349.53 433.70,349.53 433.90,349.53 434.10,349.53 434.30,349.53 434.50,349.53 434.70,349.52 434.90,349.52 435.10,349.52 435.30,349.52 435.50,349.52 435.70,349.52 435.90,349.51 436.10,349.51 436.30,349.51 436.50,349.51 436.70,349.51 436.90,349.51 437.10,349.51 437.30,349.50 437.50,349.50 437.70,349.50 437.90,349.50 438.10,349.50 438.30,349.50 438.50,349.50 438.70,349.49 438.90,349.49 439.10,349.49 439.30,349.49 439.50,349.49 439.70,349.49 439.90,349.48 440.10,349.48 440.30,349.48 440.50,349.48 440.70,349.48 440.90,349.48 441.10,349.48 441.30,349.47 441.50,349.47 441.70,349.47 441.90,349.47 442.10,349.47 442.30,349.47 442.50,349.46 442.70,349.46 442.90,349.46 443.10,349.46 443.30,349.46 443.50,349.46 443.70,349.46 443.90,349.45 444.10,349.45 444.30,349.45 444.50,349.45 444.70,349.45 444.90,349.45 445.10,349.45 445.30,349.44 445.50,349.44 445.70,349.44 445.90,349.44 446.10,349.44 446.30,349.44 446.50,349.43 446.70,349.43 446.90,349.43 447.10,349.43 447.30,349.43 447.50,349.43 447.70,349.43 447.90,349.42 448.10,349.42 448.30,349.42 448.50,349.42 448.70,349.42 448.90,349.42 449.10,349.41 449.30,349.41 449.50,349.41 449.70,349.41 449.90,349.41 450.10,349.41 450.30,349.41 450.50,349.40 450.70,349.40 450.90,349.40 451.10,349.40 451.30,349.40 451.50,349.40 451.70,349.40 451.90,349.39 452.10,349.39 452.30,349.39 452.50,349.39 452.70,349.39 452.90,349.39 453.10,349.38 453.30,349.38 453.50,349.38 453.70,349.38 453.90,349.38 454.10,349.38 454.30,349.38 454.50,349.37 454.70,349.37 454.90,349.37 455.10,349.37 455.30,349.37 455.50,349.37 455.70,349.36 455.90,349.36 456.10,349.36 456.30,349.36 456.50,349.36 456.70,349.36 456.90,349.36 457.10,349.35 457.30,349.35 457.50,349.35 457.70,349.35 457.90,349.35 458.10,349.35 458.30,349.35 458.50,349.34 458.70,349.34 458.90,349.34 459.10,349.34 459.30,349.34 459.50,349.34 459.70,349.33 459.90,349.33 460.10,349.33 460.30,349.33 460.50,349.33 460.70,349.33 460.90,349.33 461.10,349.32 461.30,349.32 461.50,349.32 461.70,349.32 461.90,349.32 462.10,349.32 462.30,349.32 462.50,349.31 462.70,349.31 462.90,349.31 463.10,349.31 463.30,349.31 463.50,349.31 463.70,349.30 463.90,349.30 464.10,349.30 464.30,349.30 464.50,349.31 464.70,349.33 464.90,349.41 465.10,349.60 465.30,350.04 465.50,350.91 465.70,352.44 465.90,354.78 466.10,357.85 466.30,361.24 466.50,364.21 466.70,365.97 466.80,366.20 466.90,365.97 467.10,364.21 467.30,361.23 467.50,357.84 467.70,354.77 467.90,352.42 468.10,350.89 468.30,350.01 468.50,349.57 468.70,349.38 468.90,349.30 469.10,349.27 469.30,349.26 469.50,349.26 469.70,349.26 469.90,349.26 470.10,349.26 470.30,349.25 470.50,349.25 470.70,349.25 470.90,349.25 471.10,349.25 471.30,349.25 471.50,349.25 471.70,349.24 471.90,349.24 472.10,349.24 472.30,349.24 472.50,349.24 472.70,349.24 472.90,349.23 473.10,349.23 473.30,349.23 473.50,349.23 473.70,349.23 473.90,349.23 474.10,349.23 474.30,349.22 474.50,349.22 474.70,349.22 474.90,349.22 475.10,349.22 475.30,349.22 475.50,349.22 475.70,349.21 475.90,349.21 476.10,349.21 476.30,349.21 476.50,349.21 476.70,349.21 476.90,349.20 477.10,349.20 477.30,349.20 477.50,349.20 477.70,349.20 477.90,349.20 478.10,349.20 478.30,349.19 478.50,349.19 478.70,349.19 478.90,349.19 479.10,349.19 479.30,349.19 479.50,349.18 479.70,349.18 479.90,349.18 480.10,349.18 480.30,349.18 480.50,349.18 480.70,349.18 480.90,349.17 481.10,349.17 481.30,349.17 481.50,349.17 481.70,349.17 481.90,349.17 482.10,349.17 482.30,349.16 482.50,349.16 482.70,349.16 482.90,349.16 483.10,349.16 483.30,349.16 483.50,349.15 483.70,349.15 483.90,349.15 484.10,349.15 484.30,349.15 484.50,349.15 484.70,349.15 484.90,349.14 485.10,349.14 485.30,349.14 485.50,349.14 485.70,349.14 485.90,349.14 486.10,349.13 486.30,349.13 486.50,349.13 486.70,349.13 486.90,349.13 487.10,349.13 487.30,349.13 487.50,349.12 487.70,349.12 487.90,349.12 488.10,349.12 488.30,349.12 488.50,349.12 488.70,349.12 488.90,349.11 489.10,349.11 489.30,349.11 489.50,349.11 489.70,349.11 489.90,349.11 490.10,349.10 490.30,349.10 490.50,349.10 490.70,349.10 490.90,349.10 491.10,349.10 491.30,349.10 491.50,349.09 491.70,349.09 491.90,349.09 492.10,349.09 492.30,349.09 492.50,349.09 492.70,349.08 492.90,349.08 493.10,349.08 493.30,349.08 493.50,349.08 493.70,349.08 493.90,349.08 494.10,349.07 494.30,349.07 494.50,349.07 494.70,349.07 494.90,349.07 495.10,349.07 495.30,349.07 495.50,349.06 495.70,349.06 495.90,349.06 496.10,349.06 496.30,349.06 496.50,349.06 496.70,349.05 496.90,349.05 497.10,349.05 497.30,349.05 497.50,349.05 497.70,349.05 497.90,349.05 498.10,349.04 498.30,349.04 498.50,349.04 498.70,349.04 498.90,349.04 499.10,349.04 499.30,349.04 499.50,349.03 499.70,349.03 499.90,349.03 500.10,349.03 500.30,349.03 500.50,349.03 500.70,349.02 500.90,349.02 501.10,349.02 501.30,349.02 501.50,349.02 501.70,349.02 501.90,349.02 502.10,349.01 502.30,349.01 502.50,349.01 502.70,349.01 502.90,349.01 503.10,349.01 503.30,349.02 503.50,349.04 503.70,349.07 503.90,349.15 504.10,349.29 504.30,349.52 504.50,349.84 504.70,350.27 504.90,350.76 505.10,351.25 505.30,351.65 505.50,351.87 505.60,351.90 505.70,351.87 505.90,351.64 506.10,351.24 506.30,350.75 506.50,350.26 506.70,349.83 506.90,349.50 507.10,349.27 507.30,349.13 507.50,349.05 507.70,349.00 507.90,348.98 508.10,348.97 508.30,348.97 508.50,348.97 508.70,348.96 508.90,348.96 509.10,348.96 509.30,348.96 509.50,348.96 509.70,348.96 509.90,348.95 510.10,348.95 510.30,348.95 510.50,348.95 510.70,348.95 510.90,348.95 511.10,348.95 511.30,348.94 511.50,348.94 511.70,348.94 511.90,348.94 512.10,348.94 512.30,348.94 512.50,348.94 512.70,348.93 512.90,348.93 513.10,348.93 513.30,348.93 513.50,348.93 513.70,348.93 513.90,348.92 514.10,348.92 514.30,348.92 514.50,348.92 514.70,348.92 514.90,348.92 515.10,348.92 515.30,348.91 515.50,348.91 515.70,348.91 515.90,348.91 516.10,348.91 516.30,348.91 516.50,348.90 516.70,348.90 516.90,348.90 517.10,348.90 517.30,348.90 517.50,348.90 517.70,348.90 517.90,348.89 518.10,348.89 518.30,348.89 518.50,348.89 518.70,348.89 518.90,348.89 519.10,348.89 519.30,348.88 519.50,348.88 519.70,348.88 519.90,348.88 520.10,348.88 520.30,348.88 520.50,348.87 520.70,348.87 520.90,348.87 521.10,348.87 521.30,348.87 521.50,348.87 521.70,348.87 521.90,348.86 522.10,348.86 522.30,348.86 522.50,348.86 522.70,348.86 522.90,348.86 523.10,348.85 523.30,348.85 523.50,348.85 523.70,348.85 523.90,348.85 524.10,348.85 524.30,348.85 524.50,348.84 524.70,348.84 524.90,348.84 525.10,348.84 525.30,348.84 525.50,348.84 525.70,348.84 525.90,348.83 526.10,348.83 526.30,348.83 526.50,348.83 526.70,348.83 526.90,348.83 527.10,348.82 527.30,348.82 527.50,348.82 527.70,348.82 527.90,348.82 528.10,348.82 528.30,348.82 528.50,348.81 528.70,348.81 528.90,348.81 529.10,348.81 529.30,348.81 529.50,348.81 529.70,348.80 529.90,348.80 530.10,348.80 530.30,348.80 530.50,348.80 530.70,348.80 530.90,348.80 531.10,348.79 531.30,348.79 531.50,348.79 531.70,348.79 531.90,348.79 532.10,348.79 532.30,348.79 532.50,348.78 532.70,348.78 532.90,348.78 533.10,348.78 533.30,348.78 533.50,348.78 533.70,348.77 533.90,348.77 534.10,348.77 534.30,348.77 534.50,348.77 534.70,348.77 534.90,348.77 535.10,348.76 535.30,348.76 535.50,348.76 535.70,348.76 535.90,348.76 536.10,348.76 536.30,348.76 536.50,348.75 536.70,348.75 536.90,348.75 537.10,348.75 537.30,348.75 537.50,348.75 537.70,348.74 537.90,348.74 538.10,348.74 538.30,348.74 538.50,348.74 538.70,348.74 538.90,348.74 539.10,348.73 539.30,348.73 539.50,348.73 539.70,348.73 539.90,348.73 540.10,348.73 540.30,348.72 540.50,348.72 540.70,348.72 540.90,348.72 541.10,348.72 541.30,348.72 541.50,348.72 541.70,348.71 541.90,348.71 542.10,348.71 542.30,348.71 542.50,348.71 542.70,348.71 542.90,348.71 543.10,348.70 543.30,348.70 543.50,348.70 543.70,348.70 543.90,348.70 544.10,348.70 544.30,348.69 544.50,348.69 544.70,348.69 544.90,348.69 545.10,348.69 545.30,348.69 545.50,348.69 545.70,348.68 545.90,348.68 546.10,348.68 546.30,348.68 546.50,348.68 546.70,348.68 546.90,348.67 547.10,348.67 547.30,348.67 547.50,348.67 547.70,348.67 547.90,348.67 548.10,348.67 548.30,348.66 548.50,348.66 548.70,348.66 548.90,348.66 549.10,348.66 549.30,348.66 549.50,348.66 549.70,348.65 549.90,348.65 550.10,348.65 550.30,348.65 550.50,348.65 550.70,348.65 550.90,348.64 551.10,348.64 551.30,348.64 551.50,348.64 551.70,348.64 551.90,348.64 552.10,348.64 552.30,348.63 552.50,348.63 552.70,348.63 552.90,348.63 553.10,348.63 553.30,348.63 553.50,348.62 553.70,348.62 553.90,348.62 554.10,348.62 554.30,348.62 554.50,348.62 554.70,348.62 554.90,348.61 555.10,348.61 555.30,348.61 555.50,348.61 555.70,348.61 555.90,348.61 556.10,348.61 556.30,348.60 556.50,348.60 556.70,348.60 556.90,348.60 557.10,348.60 557.30,348.60 557.50,348.59 557.70,348.59 557.90,348.59 558.10,348.59 558.30,348.59 558.50,348.59 558.70,348.59 558.90,348.58 559.10,348.58 559.30,348.58 559.50,348.58 559.70,348.58 559.90,348.58 560.10,348.57 560.30,348.57 560.50,348.57 560.70,348.57 560.90,348.57 561.10,348.57 561.30,348.57 561.50,348.56 561.70,348.56 561.90,348.56 562.10,348.56 562.30,348.56 562.50,348.56 562.70,348.56 562.90,348.55 563.10,348.55 563.30,348.55 563.50,348.55 563.70,348.55 563.90,348.55 564.10,348.54 564.30,348.54 564.50,348.54 564.70,348.54 564.90,348.54 565.10,348.54 565.30,348.54 565.50,348.53 565.70,348.53 565.90,348.53 566.10,348.53 566.30,348.53 566.50,348.53 566.70,348.52 566.90,348.52 567.10,348.52 567.30,348.52 567.50,348.52 567.70,348.52 567.90,348.52 568.10,348.51 568.30,348.51 568.50,348.51 568.70,348.51 568.90,348.51 569.10,348.51 569.30,348.51 569.50,348.50 569.70,348.50 569.90,348.50 570.10,348.50 570.30,348.50 570.50,348.50 570.70,348.50 570.90,348.49 571.10,348.49 571.30,436.37 571.50,524.24 571.70,612.12 571.90,700.00 572.10,700.00 572.30,700.00 572.50,700.00 572.70,700.00 572.90,700.00 573.10,700.00 573.30,700.00 573.50,700.00 573.70,700.00 573.90,700.00 574.10,700.00 574.30,700.00 574.50,700.00 574.70,700.00 574.90,700.00 575.10,700.00 575.30,612.12 575.50,524.23 575.70,436.35 575.90,348.46 576.10,358.62 576.30,357.96 576.50,357.35 576.70,356.77 576.90,356.23 577.10,355.73 577.30,355.26 577.50,354.82 577.70,354.41 577.90,354.02 578.10,353.66 578.30,353.32 578.50,353.01 578.70,352.71 578.90,352.44 579.10,352.18 579.30,351.93 579.50,351.71 579.70,351.49 579.90,351.30 580.10,351.11 580.30,350.94 580.50,350.77 580.70,350.62 580.90,350.48 581.10,350.34 581.30,350.22 581.50,350.10 581.70,349.99 581.90,349.89 582.10,349.79 582.30,349.70 582.50,349.62 582.70,349.54 582.90,349.47 583.10,349.40 583.30,349.33 583.50,349.27 583.70,349.22 583.90,349.16 584.10,349.11 584.30,349.06 584.50,349.02 584.70,348.98 584.90,348.94 585.10,348.91 585.30,348.87 585.50,348.84 585.70,348.81 585.90,348.78 586.10,348.76 586.30,348.73 586.50,348.71 586.70,348.69 586.90,348.66 587.10,348.65 587.30,348.63 587.50,348.61 587.70,348.59 587.90,348.58 588.10,348.57 588.30,348.55 588.50,348.54 588.70,348.53 588.90,348.52 589.10,348.51 589.30,348.50 589.50,348.49 589.70,348.48 589.90,348.47 590.10,348.46 590.30,348.45 590.50,348.45 590.70,348.44 590.90,348.43 591.10,348.43 591.30,348.42 591.50,348.42 591.70,348.41 591.90,348.41 592.10,348.40 592.30,348.40 592.50,348.39 592.70,348.39 592.90,348.38 593.10,348.38 593.30,348.38 593.50,348.37 593.70,348.37 593.90,348.37 594.10,348.36 594.30,348.36 594.50,348.36 594.70,348.36 594.90,348.35 595.10,348.35 595.30,348.35 595.50,348.35 595.70,348.34 595.90,348.34 596.10,348.34 596.30,348.34 596.50,348.33 596.70,348.33 596.90,348.33 597.10,348.33 597.30,348.33 597.50,348.32 597.70,348.32 597.90,348.32 598.10,348.32 598.30,348.32 598.50,348.32 598.70,348.31 598.90,348.31 599.10,348.31 599.30,348.31 599.50,348.31 599.70,348.31 599.90,348.30 600.10,348.30 600.30,348.30 600.50,348.29 600.70,348.29 600.90,348.29 601.10,348.28 601.30,348.28 601.50,348.28 601.70,348.27 601.90,348.27 602.10,348.27 602.30,348.26 602.50,348.26 602.70,348.26 602.90,348.26 603.10,348.25 603.30,348.25 603.50,348.25 603.70,348.25 603.90,348.28 604.10,348.39 604.30,348.73 604.50,349.65 604.70,351.81 604.90,356.14 605.10,363.56 605.30,374.24 605.50,386.91 605.70,398.62 605.90,405.74 606.00,406.70 606.10,405.74 606.30,398.61 606.50,386.89 606.70,374.22 606.90,363.53 607.10,356.11 607.30,351.77 607.50,349.60 607.70,348.67 607.90,348.33 608.10,348.22 608.30,348.18 608.50,348.17 608.70,348.17 608.90,348.16 609.10,348.16 609.30,348.16 609.50,348.15 609.70,348.15 609.90,348.15 610.10,348.15 610.30,348.14 610.50,348.14 610.70,348.14 610.90,348.13 611.10,348.13 611.30,348.13 611.50,348.12 611.70,348.12 611.90,348.12 612.10,348.11 612.30,348.11 612.50,348.11 612.70,348.11 612.90,348.10 613.10,348.10 613.30,348.10 613.50,348.09 613.70,348.09 613.90,348.09 614.10,348.08 614.30,348.08 614.50,348.08 614.70,348.08 614.90,348.07 615.10,348.07 615.30,348.07 615.50,348.06 615.70,348.06 615.90,348.06 616.10,348.05 616.30,348.05 616.50,348.05 616.70,348.04 616.90,348.04 617.10,348.04 617.30,348.04 617.50,348.03 617.70,348.03 617.90,348.03 618.10,348.02 618.30,348.02 618.50,348.02 618.70,348.01 618.90,348.01 619.10,348.01 619.30,348.00 619.50,348.00 619.70,348.00 619.90,348.00 620.10,347.99 620.30,347.99 620.50,347.99 620.70,347.98 620.90,347.98 621.10,347.98 621.30,347.97 621.50,347.97 621.70,347.97 621.90,347.97 622.10,347.96 622.30,347.96 622.50,347.96 622.70,347.95 622.90,347.95 623.10,347.95 623.30,347.94 623.50,347.94 623.70,347.94 623.90,347.93 624.10,347.93 624.30,347.93 624.50,347.93 624.70,347.92 624.90,347.92 625.10,347.92 625.30,347.91 625.50,347.91 625.70,347.91 625.90,347.90 626.10,347.90 626.30,347.90 626.50,347.89 626.70,347.89 626.90,347.89 627.10,347.89 627.30,347.88 627.50,347.88 627.70,347.88 627.90,347.87 628.10,347.87 628.30,347.87 628.50,347.86 628.70,347.86 628.90,347.86 629.10,347.85 629.30,347.85 629.50,347.85 629.70,347.85 629.90,347.84 630.10,347.84 630.30,347.84 630.50,347.83 630.70,347.83 630.90,347.83 631.10,347.82 631.30,347.82 631.50,347.82 631.70,347.82 631.90,347.81 632.10,347.81 632.30,347.81 632.50,347.80 632.70,347.80 632.90,347.80 633.10,347.79 633.30,347.79 633.50,347.79 633.70,347.78 633.90,347.78 634.10,347.78 634.30,347.78 634.50,347.77 634.70,347.77 634.90,347.77 635.10,347.76 635.30,347.76 635.50,347.76 635.70,347.76 635.90,347.79 636.10,347.90 636.30,348.21 636.50,348.98 636.70,350.67 636.90,353.80 637.10,358.73 637.30,365.20 637.50,372.04 637.70,377.38 637.90,379.40 638.10,377.37 638.30,372.03 638.50,365.18 638.70,358.71 638.90,353.77 639.10,350.63 639.30,348.94 639.50,348.16 639.70,347.84 639.90,347.73 640.10,347.70 640.30,347.69 640.50,347.68 640.70,347.68 640.90,347.67 641.10,347.67 641.30,347.67 641.50,347.67 641.70,347.66 641.90,347.66 642.10,347.66 642.30,347.65 642.50,347.65 642.70,347.65 642.90,347.64 643.10,347.64 643.30,347.64 643.50,347.63 643.70,347.63 643.90,347.63 644.10,347.63 644.30,347.62 644.50,347.62 644.70,347.62 644.90,347.61 645.10,347.61 645.30,347.61 645.50,347.60 645.70,347.60 645.90,347.60 646.10,347.59 646.30,347.59 646.50,347.59 646.70,347.59 646.90,347.58 647.10,347.58 647.30,347.58 647.50,347.57 647.70,347.57 647.90,347.57 648.10,347.56 648.30,347.56 648.50,347.56 648.70,347.56 648.90,347.55 649.10,347.55 649.30,347.55 649.50,347.54 649.70,347.54 649.90,347.54 650.10,347.53 650.30,347.53 650.50,347.53 650.70,347.52 650.90,347.52 651.10,347.52 651.30,347.52 651.50,347.51 651.70,347.51 651.90,347.51 652.10,347.50 652.30,347.50 652.50,347.50 652.70,347.49 652.90,347.49 653.10,347.49 653.30,347.48 653.50,347.48 653.70,347.48 653.90,347.48 654.10,347.47 654.30,347.47 654.50,347.47 654.70,347.46 654.90,347.46 655.10,347.46 655.30,347.45 655.50,347.45 655.70,347.45 655.90,347.45 656.10,347.44 656.30,347.44 656.50,347.44 656.70,347.43 656.90,347.43 657.10,347.43 657.30,347.42 657.50,347.42 657.70,347.42 657.90,347.41 658.10,347.41 658.30,347.41 658.50,347.41 658.70,347.40 658.90,347.40 659.10,347.40 659.30,347.39 659.50,347.39 659.70,347.39 659.90,347.38 660.10,347.38 660.30,347.38 660.50,347.37 660.70,347.37 660.90,347.37 661.10,347.37 661.30,347.36 661.50,347.36 661.70,347.36 661.90,347.35 662.10,347.35 662.30,347.35 662.50,347.34 662.70,347.34 662.90,347.34 663.10,347.33 663.30,347.33 663.50,347.33 663.70,347.33 663.90,347.32 664.10,347.32 664.30,347.32 664.50,347.31 664.70,347.31 664.90,347.31 665.10,347.30 665.30,347.30 665.50,347.30 665.70,347.30 665.90,347.29 666.10,347.29 666.30,347.29 666.50,347.28 666.70,347.28 666.90,347.28 667.10,347.27 667.30,347.27 667.50,347.27 667.70,347.26 667.90,347.26 668.10,347.26 668.30,347.26 668.50,347.25 668.70,347.25 668.90,347.25 669.10,347.24 669.30,347.24 669.50,347.24 669.70,347.23 669.90,347.23 670.10,347.23 670.30,347.22 670.50,347.22 670.70,347.22 670.90,347.22 671.10,347.21 671.30,347.21 671.50,347.21 671.70,347.20 671.90,347.20 672.10,347.20 672.30,347.19 672.50,347.19 672.70,347.19 672.90,347.19 673.10,347.18 673.30,347.18 673.50,347.18 673.70,347.17 673.90,347.17 674.10,347.17 674.30,347.16 674.50,347.16 674.70,347.16 674.90,347.15 675.10,347.15 675.30,347.15 675.50,347.15 675.70,347.14 675.90,347.14 676.10,347.14 676.30,347.13 676.50,347.13 676.70,347.13 676.90,347.12 677.10,347.12 677.30,347.12 677.50,347.11 677.70,347.11 677.90,347.11 678.10,347.11 678.30,347.10 678.50,347.10 678.70,347.10 678.90,347.09 679.10,347.09 679.30,347.09 679.50,347.08 679.70,347.08 679.90,347.08 680.10,347.07 680.30,347.07 680.50,347.07 680.70,347.07 680.90,347.06 681.10,347.06 681.30,347.06 681.50,347.05 681.70,347.05 681.90,347.05 682.10,347.04 682.30,347.04 682.50,347.04 682.70,347.04 682.90,347.03 683.10,347.03 683.30,347.03 683.50,347.02 683.70,347.02 683.90,347.02 684.10,347.01 684.30,347.01 684.50,347.01" fill="none" stroke="#40f040" stroke-width="1.6" stroke-linejoin="round"/>
<rect x="129.0" y="455" width="3.4" height="199.3" fill="#22ff22"/>
<circle cx="215.9" cy="419.0" r="1.45" fill="#161616"/>
<circle cx="222.9" cy="421.2" r="1.45" fill="#161616"/>
<circle cx="229.8" cy="423.4" r="1.45" fill="#161616"/>
<polyline points="67.20,779.30 67.40,781.07 67.60,782.85 67.80,784.62 68.00,786.39 68.20,788.17 68.40,789.94 68.60,791.71 68.80,793.02 69.00,793.86 69.20,794.71 69.40,795.55 69.60,796.39 69.80,797.24 70.00,798.08 70.20,799.29 70.40,800.88 70.60,802.47 70.80,804.05 71.00,805.64 71.20,807.23 71.40,808.81 71.60,810.40 71.80,810.99 72.00,811.58 72.20,812.17 72.40,812.76 72.60,813.35 72.80,813.94 73.00,814.53 73.20,815.12 73.40,815.71 73.60,816.30 73.80,817.14 74.00,817.99 74.20,818.83 74.40,819.67 74.60,820.51 74.80,821.36 75.00,822.20 75.20,822.27 75.40,822.34 75.60,822.41 75.80,822.47 76.00,822.53 76.20,822.52 76.40,822.34 76.60,821.62 76.80,819.54 77.00,814.60 77.20,804.63 77.40,788.00 77.60,764.25 77.80,735.92 78.00,709.81 78.20,694.32 78.30,692.60 78.40,695.32 78.60,712.84 78.80,740.97 79.00,771.32 79.20,797.08 79.40,815.26 79.60,825.99 79.80,831.37 80.00,833.88 80.20,835.04 80.40,835.67 80.60,836.11 80.80,836.49 81.00,836.86 81.20,837.23 81.40,837.60 81.60,837.97 81.80,838.34 82.00,838.71 82.20,839.08 82.40,839.45 82.60,839.82 82.80,840.15 83.00,840.45 83.20,840.74 83.40,841.04 83.60,841.34 83.80,841.63 84.00,841.93 84.20,842.23 84.40,842.52 84.60,842.82 84.80,843.12 85.00,843.41 85.20,843.71 85.40,844.00 85.60,844.30 85.80,844.60 86.00,844.89 86.20,845.19 86.40,845.49 86.60,845.78 86.80,846.08 87.00,846.38 87.20,846.67 87.40,846.97 87.60,847.27 87.80,847.56 88.00,847.84 88.20,848.11 88.40,848.34 88.60,848.50 88.80,848.49 89.00,848.27 89.20,847.81 89.40,847.11 89.60,846.21 89.80,845.22 90.00,844.34 90.20,843.78 90.40,843.70 90.60,844.18 90.80,845.14 91.00,846.42 91.20,847.81 91.40,849.11 91.60,850.21 91.80,851.07 92.00,851.69 92.20,852.15 92.40,852.48 92.60,852.75 92.80,852.98 93.00,853.19 93.20,853.40 93.40,853.60 93.60,853.80 93.80,854.00 94.00,854.00 94.20,853.80 94.40,853.60 94.60,853.40 94.80,853.20 95.00,853.00 95.20,852.80 95.40,852.60 95.60,852.40 95.80,852.20 96.00,852.00 96.20,852.15 96.40,852.64 96.60,853.13 96.80,853.62 97.00,854.07 97.20,854.44 97.40,854.58 97.60,854.22 97.80,852.64 98.00,850.00 98.20,846.53 98.40,843.09 98.60,840.95 98.70,840.70 98.80,841.05 99.00,843.38 99.20,846.94 99.40,850.35 99.60,852.47 99.80,852.65 100.00,850.71 100.20,846.93 100.40,842.30 100.60,838.44 100.80,837.00 101.00,838.67 101.20,842.78 101.40,847.75 101.60,852.10 101.80,855.13 102.00,856.90 102.20,857.79 102.40,858.23 102.60,858.48 102.80,858.66 103.00,858.82 103.20,858.98 103.40,859.14 103.60,859.30 103.80,859.45 104.00,859.61 104.20,859.77 104.40,859.93 104.60,860.08 104.80,860.24 105.00,860.40 105.20,860.56 105.40,860.71 105.60,860.87 105.80,861.03 106.00,861.19 106.20,861.34 106.40,861.50 106.60,861.58 106.80,861.65 107.00,861.73 107.20,861.81 107.40,861.89 107.60,861.96 107.80,862.04 108.00,862.12 108.20,862.20 108.40,862.27 108.60,862.35 108.80,862.43 109.00,862.51 109.20,862.58 109.40,862.66 109.60,862.74 109.80,862.81 110.00,862.89 110.20,862.97 110.40,863.05 110.60,863.12 110.80,863.20 111.00,863.28 111.20,863.36 111.40,863.43 111.60,863.51 111.80,863.59 112.00,863.67 112.20,863.74 112.40,863.82 112.60,863.90 112.80,863.97 113.00,864.05 113.20,864.13 113.40,864.21 113.60,864.28 113.80,864.36 114.00,864.43 114.20,864.48 114.40,864.54 114.60,864.59 114.80,864.65 115.00,864.71 115.20,864.76 115.40,864.82 115.60,864.87 115.80,864.93 116.00,864.98 116.20,865.04 116.40,865.10 116.60,865.15 116.80,865.21 117.00,865.26 117.20,865.32 117.40,865.37 117.60,865.43 117.80,865.48 118.00,865.54 118.20,865.60 118.40,865.65 118.60,865.71 118.80,865.76 119.00,865.80 119.20,865.84 119.40,865.84 119.60,865.80 119.80,865.69 120.00,865.48 120.20,865.15 120.40,864.69 120.60,864.17 120.80,863.64 121.00,863.22 121.20,863.01 121.30,863.00 121.40,863.06 121.60,863.39 121.80,863.92 122.00,864.56 122.20,865.20 122.40,865.76 122.60,866.20 122.80,866.53 123.00,866.75 123.20,866.90 123.40,867.00 123.60,867.08 123.80,867.15 124.00,867.21 124.20,867.26 124.40,867.32 124.60,867.38 124.80,867.43 125.00,867.49 125.20,867.54 125.40,867.60 125.60,867.65 125.80,867.71 126.00,867.77 126.20,867.82 126.40,867.88 126.60,867.93 126.80,867.99 127.00,868.04 127.20,868.10 127.40,868.14 127.60,868.18 127.80,868.22 128.00,868.26 128.20,868.30 128.40,868.34 128.60,868.38 128.80,868.42 129.00,868.46 129.20,868.51 129.40,868.55 129.60,868.59 129.80,868.63 130.00,868.67 130.20,868.71 130.40,868.75 130.60,868.79 130.80,868.83 131.00,868.87 131.20,868.91 131.40,868.95 131.60,868.99 131.80,869.03 132.00,869.07 132.20,869.11 132.40,869.15 132.60,869.19 132.80,869.24 133.00,869.28 133.20,869.32 133.40,869.36 133.60,869.40 133.80,869.44 134.00,869.48 134.20,869.52 134.40,869.56 134.60,869.60 134.80,869.64 135.00,869.68 135.20,869.72 135.40,869.76 135.60,869.80 135.80,869.84 136.00,869.88 136.20,869.92 136.40,869.96 136.60,870.01 136.80,870.05 137.00,870.09 137.20,870.13 137.40,870.17 137.60,870.21 137.80,870.25 138.00,870.29 138.20,870.33 138.40,870.37 138.60,870.41 138.80,870.45 139.00,870.49 139.20,870.53 139.40,870.57 139.60,870.61 139.80,870.65 140.00,870.69 140.20,870.74 140.40,870.78 140.60,870.82 140.80,870.86 141.00,870.90 141.20,870.94 141.40,870.98 141.60,871.02 141.80,871.06 142.00,871.10 142.20,871.12 142.40,871.14 142.60,871.16 142.80,871.18 143.00,871.20 143.20,871.22 143.40,871.24 143.60,871.25 143.80,871.27 144.00,871.29 144.20,871.31 144.40,871.33 144.60,871.35 144.80,871.37 145.00,871.39 145.20,871.41 145.40,871.43 145.60,871.45 145.80,871.47 146.00,871.49 146.20,871.50 146.40,871.52 146.60,871.54 146.80,871.56 147.00,871.58 147.20,871.60 147.40,871.62 147.60,871.64 147.80,871.66 148.00,871.68 148.20,871.70 148.40,871.72 148.60,871.74 148.80,871.76 149.00,871.77 149.20,871.79 149.40,871.81 149.60,871.83 149.80,871.85 150.00,871.87 150.20,871.89 150.40,871.91 150.60,871.93 150.80,871.95 151.00,871.97 151.20,871.99 151.40,872.01 151.60,872.03 151.80,872.04 152.00,872.06 152.20,872.08 152.40,872.10 152.60,872.12 152.80,872.14 153.00,872.16 153.20,872.18 153.40,872.20 153.60,872.22 153.80,872.24 154.00,872.26 154.20,872.28 154.40,872.30 154.60,872.31 154.80,872.33 155.00,872.35 155.20,872.37 155.40,872.39 155.60,872.41 155.80,872.43 156.00,872.45 156.20,872.47 156.40,872.49 156.60,872.51 156.80,872.53 157.00,872.55 157.20,872.57 157.40,872.59 157.60,872.60 157.80,872.62 158.00,872.64 158.20,872.66 158.40,872.68 158.60,872.70 158.80,872.72 159.00,872.74 159.20,872.76 159.40,872.78 159.60,872.80 159.80,872.82 160.00,872.84 160.20,872.86 160.40,872.87 160.60,872.89 160.80,872.91 161.00,872.93 161.20,872.95 161.40,872.97 161.60,872.99 161.80,873.01 162.00,873.03 162.20,873.05 162.40,873.07 162.60,873.09 162.80,873.11 163.00,873.12 163.20,873.14 163.40,873.16 163.60,873.18 163.80,873.20 164.00,873.22 164.20,873.24 164.40,873.26 164.60,873.28 164.80,873.30 165.00,873.32 165.20,873.34 165.40,873.36 165.60,873.38 165.80,873.39 166.00,873.41 166.20,873.43 166.40,873.45 166.60,873.47 166.80,873.49 167.00,873.51 167.20,873.53 167.40,873.55 167.60,873.57 167.80,873.59 168.00,873.61 168.20,873.63 168.40,873.65 168.60,873.66 168.80,873.68 169.00,873.70 169.20,873.72 169.40,873.74 169.60,873.76 169.80,873.78 170.00,873.80 170.20,873.82 170.40,873.84 170.60,873.86 170.80,873.88 171.00,873.90 171.20,873.92 171.40,873.93 171.60,873.95 171.80,873.97 172.00,873.99 172.20,874.01 172.40,874.03 172.60,874.05 172.80,874.06 173.00,874.07 173.20,874.06 173.40,874.01 173.60,873.88 173.80,873.63 174.00,873.19 174.20,872.57 174.40,871.81 174.60,871.05 174.80,870.50 175.00,870.30 175.20,870.53 175.40,871.13 175.60,871.92 175.80,872.72 176.00,873.38 176.20,873.86 176.40,874.15 176.60,874.32 176.80,874.41 177.00,874.46 177.20,874.49 177.40,874.51 177.60,874.53 177.80,874.55 178.00,874.57 178.20,874.59 178.40,874.61 178.60,874.63 178.80,874.64 179.00,874.66 179.20,874.68 179.40,874.70 179.60,874.72 179.80,874.74 180.00,874.76 180.20,874.78 180.40,874.80 180.60,874.82 180.80,874.84 181.00,874.85 181.20,874.87 181.40,874.87 181.60,874.86 181.80,874.80 182.00,874.69 182.20,874.48 182.40,874.18 182.60,873.82 182.80,873.45 183.00,873.19 183.20,873.10 183.40,873.23 183.60,873.53 183.80,873.93 184.00,874.34 184.20,874.67 184.40,874.92 184.60,875.07 184.80,875.16 185.00,875.22 185.20,875.25 185.40,875.28 185.60,875.30 185.80,875.32 186.00,875.34 186.20,875.36 186.40,875.37 186.60,875.39 186.80,875.41 187.00,875.43 187.20,875.45 187.40,875.47 187.60,875.49 187.80,875.51 188.00,875.53 188.20,875.55 188.40,875.57 188.60,875.59 188.80,875.60 189.00,875.62 189.20,875.64 189.40,875.66 189.60,875.68 189.80,875.70 190.00,875.72 190.20,875.74 190.40,875.76 190.60,875.78 190.80,875.80 191.00,875.82 191.20,875.84 191.40,875.85 191.60,875.87 191.80,875.89 192.00,875.91 192.20,875.93 192.40,875.95 192.60,875.97 192.80,875.99 193.00,876.01 193.20,876.03 193.40,876.05 193.60,876.07 193.80,876.08 194.00,876.10 194.20,876.12 194.40,876.14 194.60,876.16 194.80,876.17 195.00,876.17 195.20,876.08 195.40,875.77 195.60,874.82 195.80,872.44 196.00,867.27 196.20,857.67 196.40,842.56 196.60,822.72 196.80,801.75 197.00,785.40 197.20,779.20 197.40,785.43 197.60,801.80 197.80,822.80 198.00,842.66 198.20,857.79 198.40,867.42 198.60,872.61 198.80,875.02 199.00,875.98 199.20,876.32 199.40,876.43 199.60,876.47 199.80,876.49 200.00,876.50 200.20,876.51 200.40,876.51 200.60,876.52 200.80,876.53 201.00,876.53 201.20,876.54 201.40,876.55 201.60,876.55 201.80,876.56 202.00,876.57 202.20,876.57 202.40,876.58 202.60,876.59 202.80,876.59 203.00,876.60 203.20,876.61 203.40,876.61 203.60,876.62 203.80,876.63 204.00,876.63 204.20,876.64 204.40,876.65 204.60,876.65 204.80,876.66 205.00,876.66 205.20,876.66 205.40,876.65 205.60,876.60 205.80,876.48 206.00,876.25 206.20,875.82 206.40,875.17 206.60,874.32 206.80,873.37 207.00,872.55 207.20,872.06 207.30,872.00 207.40,872.07 207.60,872.57 207.80,873.41 208.00,874.36 208.20,875.23 208.40,875.90 208.60,876.33 208.80,876.58 209.00,876.71 209.20,876.78 209.40,876.80 209.60,876.82 209.80,876.83 210.00,876.83 210.20,876.84 210.40,876.85 210.60,876.85 210.80,876.86 211.00,876.87 211.20,876.87 211.40,876.88 211.60,876.89 211.80,876.89 212.00,876.90 212.20,876.91 212.40,876.91 212.60,876.92 212.80,876.93 213.00,876.93 213.20,876.94 213.40,876.95 213.60,876.95 213.80,876.96 214.00,876.97 214.20,876.97 214.40,876.98 214.60,876.99 214.80,876.99 215.00,877.00 215.20,877.00 215.40,877.00 215.60,877.00 215.80,877.00 216.00,877.00 216.20,877.00 216.40,877.00 216.60,877.00 216.80,877.00 217.00,877.00 217.20,876.99 217.40,876.97 217.60,876.91 217.80,876.79 218.00,876.52 218.20,876.00 218.40,875.08 218.60,873.60 218.80,871.44 219.00,868.64 219.20,865.42 219.40,862.20 219.60,859.58 219.80,858.09 219.90,857.90 220.00,858.09 220.20,859.58 220.40,862.20 220.60,865.42 220.80,868.64 221.00,871.44 221.20,873.60 221.40,875.08 221.60,876.00 221.80,876.52 222.00,876.79 222.20,876.91 222.40,876.97 222.60,876.99 222.80,877.00 223.00,877.00 223.20,877.00 223.40,877.00 223.60,877.00 223.80,877.00 224.00,877.00 224.20,877.01 224.40,877.02 224.60,877.03 224.80,877.03 225.00,877.01 225.20,876.95 225.40,876.78 225.60,876.44 225.80,875.82 226.00,874.89 226.20,873.65 226.40,872.29 226.60,871.09 226.80,870.39 226.90,870.30 227.00,870.40 227.20,871.12 227.40,872.34 227.60,873.73 227.80,874.99 228.00,875.95 228.20,876.59 228.40,876.95 228.60,877.14 228.80,877.23 229.00,877.27 229.20,877.30 229.40,877.31 229.60,877.32 229.80,877.33 230.00,877.35 230.20,877.36 230.40,877.37 230.60,877.37 230.80,877.36 231.00,877.32 231.20,877.19 231.40,876.94 231.60,876.51 231.80,875.95 232.00,875.39 232.20,875.04 232.30,875.00 232.40,875.05 232.60,875.43 232.80,876.00 233.00,876.59 233.20,877.04 233.40,877.32 233.60,877.47 233.80,877.54 234.00,877.57 234.20,877.59 234.40,877.60 234.60,877.61 234.80,877.62 235.00,877.63 235.20,877.65 235.40,877.66 235.60,877.67 235.80,877.68 236.00,877.69 236.20,877.70 236.40,877.72 236.60,877.73 236.80,877.74 237.00,877.75 237.20,877.76 237.40,877.77 237.60,877.78 237.80,877.80 238.00,877.81 238.20,877.82 238.40,877.83 238.60,877.84 238.80,877.85 239.00,877.87 239.20,877.88 239.40,877.89 239.60,877.90 239.80,877.91 240.00,877.92 240.20,877.93 240.40,877.94 240.60,877.95 240.80,877.95 241.00,877.92 241.20,877.84 241.40,877.64 241.60,877.27 241.80,876.66 242.00,875.78 242.20,874.72 242.40,873.67 242.60,872.88 242.80,872.60 243.00,872.91 243.20,873.72 243.40,874.79 243.60,875.88 243.80,876.77 244.00,877.41 244.20,877.80 244.40,878.02 244.60,878.13 244.80,878.18 245.00,878.20 245.20,878.22 245.40,878.23 245.60,878.25 245.80,878.26 246.00,878.27 246.20,878.28 246.40,878.29 246.60,878.30 246.80,878.32 247.00,878.33 247.20,878.34 247.40,878.35 247.60,878.36 247.80,878.37 248.00,878.38 248.20,878.40 248.40,878.41 248.60,878.42 248.80,878.43 249.00,878.44 249.20,878.45 249.40,878.47 249.60,878.48 249.80,878.49 250.00,878.50 250.20,878.50 250.40,878.51 250.60,878.51 250.80,878.52 251.00,878.52 251.20,878.53 251.40,878.53 251.60,878.54 251.80,878.54 252.00,878.54 252.20,878.55 252.40,878.55 252.60,878.56 252.80,878.56 253.00,878.55 253.20,878.52 253.40,878.43 253.60,878.26 253.80,877.98 254.00,877.62 254.20,877.26 254.40,877.03 254.50,877.00 254.60,877.03 254.80,877.27 255.00,877.64 255.20,878.02 255.40,878.30 255.60,878.48 255.80,878.58 256.00,878.62 256.20,878.63 256.40,878.64 256.60,878.65 256.80,878.65 257.00,878.66 257.20,878.66 257.40,878.66 257.60,878.65 257.80,878.62 258.00,878.53 258.20,878.35 258.40,878.05 258.60,877.66 258.80,877.27 259.00,877.03 259.10,877.00 259.20,877.04 259.40,877.29 259.60,877.68 259.80,878.08 260.00,878.39 260.20,878.58 260.40,878.68 260.60,878.72 260.80,878.74 261.00,878.75 261.20,878.75 261.40,878.76 261.60,878.76 261.80,878.77 262.00,878.77 262.20,878.77 262.40,878.78 262.60,878.78 262.80,878.79 263.00,878.79 263.20,878.80 263.40,878.80 263.60,878.81 263.80,878.81 264.00,878.81 264.20,878.82 264.40,878.82 264.60,878.83 264.80,878.83 265.00,878.84 265.20,878.84 265.40,878.85 265.60,878.85 265.80,878.86 266.00,878.86 266.20,878.86 266.40,878.87 266.60,878.87 266.80,878.88 267.00,878.88 267.20,878.89 267.40,878.89 267.60,878.90 267.80,878.90 268.00,878.90 268.20,878.91 268.40,878.91 268.60,878.92 268.80,878.92 269.00,878.93 269.20,878.93 269.40,878.93 269.60,878.93 269.80,878.93 270.00,878.90 270.20,878.85 270.40,878.75 270.60,878.59 270.80,878.32 271.00,877.97 271.20,877.52 271.40,877.05 271.60,876.61 271.80,876.31 272.00,876.20 272.20,876.32 272.40,876.63 272.60,877.07 272.80,877.56 273.00,878.01 273.20,878.38 273.40,878.65 273.60,878.83 273.80,878.93 274.00,878.99 274.20,879.02 274.40,879.04 274.60,879.05 274.80,879.06 275.00,879.06 275.20,879.07 275.40,879.07 275.60,879.08 275.80,879.08 276.00,879.08 276.20,879.09 276.40,879.09 276.60,879.10 276.80,879.10 277.00,879.11 277.20,879.11 277.40,879.12 277.60,879.12 277.80,879.13 278.00,879.13 278.20,879.13 278.40,879.14 278.60,879.14 278.80,879.15 279.00,879.15 279.20,879.16 279.40,879.16 279.60,879.17 279.80,879.17 280.00,879.17 280.20,879.18 280.40,879.18 280.60,879.19 280.80,879.19 281.00,879.20 281.20,879.20 281.40,879.21 281.60,879.21 281.80,879.22 282.00,879.22 282.20,879.22 282.40,879.23 282.60,879.23 282.80,879.24 283.00,879.24 283.20,879.25 283.40,879.25 283.60,879.26 283.80,879.26 284.00,879.26 284.20,879.27 284.40,879.27 284.60,879.28 284.80,879.28 285.00,879.29 285.20,879.29 285.40,879.30 285.60,879.30 285.80,879.31 286.00,879.31 286.20,879.31 286.40,879.32 286.60,879.32 286.80,879.33 287.00,879.33 287.20,879.34 287.40,879.34 287.60,879.35 287.80,879.35 288.00,879.36 288.20,879.36 288.40,879.36 288.60,879.37 288.80,879.37 289.00,879.38 289.20,879.38 289.40,879.39 289.60,879.39 289.80,879.40 290.00,879.40 290.20,879.41 290.40,879.41 290.60,879.42 290.80,879.42 291.00,879.43 291.20,879.44 291.40,879.44 291.60,879.45 291.80,879.45 292.00,879.46 292.20,879.47 292.40,879.47 292.60,879.48 292.80,879.48 293.00,879.49 293.20,879.50 293.40,879.50 293.60,879.51 293.80,879.51 294.00,879.52 294.20,879.53 294.40,879.53 294.60,879.54 294.80,879.54 295.00,879.55 295.20,879.56 295.40,879.56 295.60,879.57 295.80,879.57 296.00,879.58 296.20,879.59 296.40,879.59 296.60,879.60 296.80,879.60 297.00,879.61 297.20,879.62 297.40,879.62 297.60,879.63 297.80,879.63 298.00,879.64 298.20,879.65 298.40,879.65 298.60,879.66 298.80,879.66 299.00,879.67 299.20,879.68 299.40,879.68 299.60,879.69 299.80,879.69 300.00,879.70 300.20,879.71 300.40,879.71 300.60,879.71 300.80,879.68 301.00,879.61 301.20,879.43 301.40,879.05 301.60,878.32 301.80,877.11 302.00,875.41 302.20,873.35 302.40,871.30 302.60,869.77 302.80,869.20 303.00,869.78 303.20,871.32 303.40,873.38 303.60,875.46 303.80,877.17 304.00,878.39 304.20,879.13 304.40,879.53 304.60,879.72 304.80,879.80 305.00,879.84 305.20,879.85 305.40,879.86 305.60,879.87 305.80,879.87 306.00,879.88 306.20,879.89 306.40,879.89 306.60,879.90 306.80,879.90 307.00,879.91 307.20,879.92 307.40,879.92 307.60,879.93 307.80,879.93 308.00,879.94 308.20,879.95 308.40,879.95 308.60,879.96 308.80,879.96 309.00,879.97 309.20,879.98 309.40,879.98 309.60,879.99 309.80,879.99 310.00,880.00 310.20,880.00 310.40,880.01 310.60,880.01 310.80,880.02 311.00,880.02 311.20,880.03 311.40,880.03 311.60,880.02 311.80,879.99 312.00,879.91 312.20,879.77 312.40,879.54 312.60,879.21 312.80,878.81 313.00,878.41 313.20,878.11 313.40,878.00 313.60,878.12 313.80,878.43 314.00,878.84 314.20,879.25 314.40,879.59 314.60,879.83 314.80,879.98 315.00,880.07 315.20,880.11 315.40,880.13 315.60,880.14 315.80,880.14 316.00,880.15 316.20,880.15 316.40,880.16 316.60,880.16 316.80,880.17 317.00,880.17 317.20,880.18 317.40,880.18 317.60,880.19 317.80,880.20 318.00,880.20 318.20,880.21 318.40,880.21 318.60,880.22 318.80,880.22 319.00,880.23 319.20,880.23 319.40,880.24 319.60,880.24 319.80,880.25 320.00,880.25 320.20,880.25 320.40,880.26 320.60,880.26 320.80,880.27 321.00,880.27 321.20,880.28 321.40,880.28 321.60,880.29 321.80,880.29 322.00,880.30 322.20,880.30 322.40,880.31 322.60,880.32 322.80,880.32 323.00,880.33 323.20,880.33 323.40,880.34 323.60,880.34 323.80,880.35 324.00,880.35 324.20,880.35 324.40,880.36 324.60,880.36 324.80,880.37 325.00,880.37 325.20,880.37 325.40,880.36 325.60,880.29 325.80,880.09 326.00,879.61 326.20,878.64 326.40,877.06 326.60,875.00 326.80,872.96 327.00,871.67 327.10,871.50 327.20,871.68 327.40,872.98 327.60,875.03 327.80,877.09 328.00,878.68 328.20,879.65 328.40,880.12 328.60,880.26 328.80,880.13 329.00,879.72 329.20,878.95 329.40,877.81 329.60,876.50 329.80,875.42 330.00,875.00 330.20,875.43 330.40,876.51 330.60,877.83 330.80,878.95 331.00,879.66 331.20,879.90 331.40,879.72 331.60,879.17 331.80,878.38 332.00,877.58 332.20,877.07 332.30,877.00 332.40,877.07 332.60,877.59 332.80,878.41 333.00,879.24 333.20,879.88 333.40,880.27 333.60,880.47 333.80,880.56 334.00,880.59 334.20,880.60 334.40,880.61 334.60,880.61 334.80,880.62 335.00,880.62 335.20,880.63 335.40,880.63 335.60,880.64 335.80,880.64 336.00,880.65 336.20,880.65 336.40,880.66 336.60,880.66 336.80,880.67 337.00,880.67 337.20,880.68 337.40,880.68 337.60,880.69 337.80,880.70 338.00,880.70 338.20,880.70 338.40,880.71 338.60,880.71 338.80,880.72 339.00,880.72 339.20,880.73 339.40,880.73 339.60,880.72 339.80,880.69 340.00,880.59 340.20,880.37 340.40,879.93 340.60,879.15 340.80,877.95 341.00,876.37 341.20,874.64 341.40,873.11 341.60,872.22 341.70,872.10 341.80,872.22 342.00,873.13 342.20,874.66 342.40,876.41 342.60,877.99 342.80,879.20 343.00,879.99 343.20,880.45 343.40,880.68 343.60,880.78 343.80,880.83 344.00,880.84 344.20,880.85 344.40,880.86 344.60,880.86 344.80,880.87 345.00,880.87 345.20,880.88 345.40,880.88 345.60,880.89 345.80,880.89 346.00,880.90 346.20,880.90 346.40,880.91 346.60,880.91 346.80,880.92 347.00,880.92 347.20,880.93 347.40,880.93 347.60,880.94 347.80,880.95 348.00,880.95 348.20,880.96 348.40,880.96 348.60,880.97 348.80,880.97 349.00,880.98 349.20,880.98 349.40,880.99 349.60,880.99 349.80,881.00 350.00,881.00 350.20,881.00 350.40,881.01 350.60,881.01 350.80,881.01 351.00,881.01 351.20,881.02 351.40,881.02 351.60,881.02 351.80,881.03 352.00,881.03 352.20,881.03 352.40,881.04 352.60,881.04 352.80,881.04 353.00,881.04 353.20,881.05 353.40,881.05 353.60,881.05 353.80,881.06 354.00,881.06 354.20,881.06 354.40,881.06 354.60,881.07 354.80,881.07 355.00,881.07 355.20,881.08 355.40,881.08 355.60,881.08 355.80,881.08 356.00,881.09 356.20,881.09 356.40,881.09 356.60,881.10 356.80,881.10 357.00,881.10 357.20,881.11 357.40,881.11 357.60,881.11 357.80,881.11 358.00,881.12 358.20,881.12 358.40,881.12 358.60,881.13 358.80,881.13 359.00,881.13 359.20,881.13 359.40,881.14 359.60,881.14 359.80,881.14 360.00,881.15 360.20,881.15 360.40,881.15 360.60,881.15 360.80,881.16 361.00,881.16 361.20,881.16 361.40,881.17 361.60,881.17 361.80,881.17 362.00,881.18 362.20,881.18 362.40,881.18 362.60,881.18 362.80,881.19 363.00,881.19 363.20,881.19 363.40,881.20 363.60,881.20 363.80,881.20 364.00,881.20 364.20,881.21 364.40,881.21 364.60,881.21 364.80,881.22 365.00,881.22 365.20,881.22 365.40,881.23 365.60,881.23 365.80,881.23 366.00,881.23 366.20,881.24 366.40,881.24 366.60,881.24 366.80,881.25 367.00,881.25 367.20,881.25 367.40,881.25 367.60,881.26 367.80,881.26 368.00,881.25 368.20,881.24 368.40,881.21 368.60,881.15 368.80,881.04 369.00,880.87 369.20,880.61 369.40,880.28 369.60,879.89 369.80,879.51 370.00,879.20 370.20,879.02 370.30,879.00 370.40,879.02 370.60,879.21 370.80,879.52 371.00,879.91 371.20,880.30 371.40,880.64 371.60,880.91 371.80,881.09 372.00,881.20 372.20,881.27 372.40,881.30 372.60,881.32 372.80,881.33 373.00,881.33 373.20,881.34 373.40,881.34 373.60,881.34 373.80,881.35 374.00,881.35 374.20,881.35 374.40,881.36 374.60,881.36 374.80,881.36 375.00,881.37 375.20,881.37 375.40,881.37 375.60,881.37 375.80,881.38 376.00,881.38 376.20,881.38 376.40,881.39 376.60,881.39 376.80,881.39 377.00,881.39 377.20,881.40 377.40,881.40 377.60,881.40 377.80,881.41 378.00,881.41 378.20,881.41 378.40,881.42 378.60,881.42 378.80,881.42 379.00,881.42 379.20,881.43 379.40,881.43 379.60,881.43 379.80,881.44 380.00,881.44 380.20,881.44 380.40,881.44 380.60,881.45 380.80,881.45 381.00,881.45 381.20,881.46 381.40,881.46 381.60,881.46 381.80,881.46 382.00,881.47 382.20,881.47 382.40,881.47 382.60,881.48 382.80,881.48 383.00,881.48 383.20,881.49 383.40,881.49 383.60,881.49 383.80,881.49 384.00,881.50 384.20,881.50 384.40,881.50 384.60,881.51 384.80,881.51 385.00,881.51 385.20,881.51 385.40,881.52 385.60,881.52 385.80,881.52 386.00,881.53 386.20,881.53 386.40,881.53 386.60,881.53 386.80,881.54 387.00,881.54 387.20,881.54 387.40,881.55 387.60,881.55 387.80,881.55 388.00,881.55 388.20,881.56 388.40,881.55 388.60,881.55 388.80,881.53 389.00,881.49 389.20,881.41 389.40,881.29 389.60,881.11 389.80,880.88 390.00,880.62 390.20,880.35 390.40,880.14 390.60,880.01 390.70,880.00 390.80,880.02 391.00,880.14 391.20,880.37 391.40,880.64 391.60,880.91 391.80,881.15 392.00,881.33 392.20,881.46 392.40,881.54 392.60,881.58 392.80,881.61 393.00,881.62 393.20,881.63 393.40,881.63 393.60,881.64 393.80,881.64 394.00,881.64 394.20,881.65 394.40,881.65 394.60,881.65 394.80,881.65 395.00,881.66 395.20,881.66 395.40,881.66 395.60,881.67 395.80,881.67 396.00,881.67 396.20,881.68 396.40,881.68 396.60,881.68 396.80,881.68 397.00,881.69 397.20,881.69 397.40,881.69 397.60,881.70 397.80,881.70 398.00,881.70 398.20,881.70 398.40,881.71 398.60,881.71 398.80,881.71 399.00,881.72 399.20,881.72 399.40,881.72 399.60,881.72 399.80,881.73 400.00,881.73 400.20,881.73 400.40,881.74 400.60,881.74 400.80,881.74 401.00,881.75 401.20,881.75 401.40,881.75 401.60,881.75 401.80,881.76 402.00,881.76 402.20,881.76 402.40,881.77 402.60,881.77 402.80,881.77 403.00,881.77 403.20,881.78 403.40,881.78 403.60,881.78 403.80,881.79 404.00,881.79 404.20,881.79 404.40,881.80 404.60,881.80 404.80,881.80 405.00,881.80 405.20,881.81 405.40,881.81 405.60,881.81 405.80,881.82 406.00,881.82 406.20,881.82 406.40,881.82 406.60,881.83 406.80,881.83 407.00,881.83 407.20,881.84 407.40,881.84 407.60,881.84 407.80,881.84 408.00,881.85 408.20,881.85 408.40,881.85 408.60,881.86 408.80,881.86 409.00,881.86 409.20,881.87 409.40,881.87 409.60,881.87 409.80,881.87 410.00,881.88 410.20,881.88 410.40,881.88 410.60,881.89 410.80,881.89 411.00,881.89 411.20,881.89 411.40,881.90 411.60,881.90 411.80,881.90 412.00,881.91 412.20,881.91 412.40,881.91 412.60,881.91 412.80,881.92 413.00,881.92 413.20,881.92 413.40,881.93 413.60,881.93 413.80,881.93 414.00,881.94 414.20,881.94 414.40,881.94 414.60,881.94 414.80,881.95 415.00,881.95 415.20,881.95 415.40,881.96 415.60,881.96 415.80,881.96 416.00,881.96 416.20,881.97 416.40,881.97 416.60,881.97 416.80,881.98 417.00,881.98 417.20,881.98 417.40,881.99 417.60,881.99 417.80,881.99 418.00,881.99 418.20,881.99 418.40,881.99 418.60,881.98 418.80,881.95 419.00,881.89 419.20,881.77 419.40,881.58 419.60,881.27 419.80,880.85 420.00,880.34 420.20,879.79 420.40,879.28 420.60,878.93 420.80,878.80 421.00,878.93 421.20,879.29 421.40,879.80 421.60,880.36 421.80,880.88 422.00,881.31 422.20,881.62 422.40,881.82 422.60,881.94 422.80,882.01 423.00,882.04 423.20,882.06 423.40,882.07 423.60,882.07 423.80,882.08 424.00,882.08 424.20,882.08 424.40,882.09 424.60,882.09 424.80,882.09 425.00,882.10 425.20,882.10 425.40,882.10 425.60,882.10 425.80,882.11 426.00,882.11 426.20,882.11 426.40,882.12 426.60,882.12 426.80,882.12 427.00,882.13 427.20,882.13 427.40,882.13 427.60,882.13 427.80,882.14 428.00,882.14 428.20,882.14 428.40,882.15 428.60,882.15 428.80,882.15 429.00,882.15 429.20,882.16 429.40,882.16 429.60,882.16 429.80,882.17 430.00,882.17 430.20,882.17 430.40,882.18 430.60,882.18 430.80,882.18 431.00,882.18 431.20,882.19 431.40,882.19 431.60,882.19 431.80,882.20 432.00,882.20 432.20,882.20 432.40,882.20 432.60,882.21 432.80,882.21 433.00,882.21 433.20,882.22 433.40,882.22 433.60,882.22 433.80,882.22 434.00,882.23 434.20,882.23 434.40,882.23 434.60,882.24 434.80,882.24 435.00,882.24 435.20,882.25 435.40,882.25 435.60,882.25 435.80,882.25 436.00,882.26 436.20,882.26 436.40,882.26 436.60,882.27 436.80,882.27 437.00,882.27 437.20,882.27 437.40,882.28 437.60,882.28 437.80,882.28 438.00,882.29 438.20,882.29 438.40,882.29 438.60,882.29 438.80,882.30 439.00,882.30 439.20,882.30 439.40,882.31 439.60,882.31 439.80,882.31 440.00,882.32 440.20,882.32 440.40,882.32 440.60,882.32 440.80,882.33 441.00,882.33 441.20,882.33 441.40,882.34 441.60,882.34 441.80,882.34 442.00,882.34 442.20,882.35 442.40,882.35 442.60,882.35 442.80,882.36 443.00,882.36 443.20,882.36 443.40,882.37 443.60,882.37 443.80,882.37 444.00,882.37 444.20,882.38 444.40,882.38 444.60,882.38 444.80,882.39 445.00,882.39 445.20,882.39 445.40,882.39 445.60,882.40 445.80,882.40 446.00,882.40 446.20,882.41 446.40,882.41 446.60,882.41 446.80,882.41 447.00,882.42 447.20,882.42 447.40,882.42 447.60,882.43 447.80,882.43 448.00,882.43 448.20,882.44 448.40,882.44 448.60,882.44 448.80,882.44 449.00,882.45 449.20,882.45 449.40,882.45 449.60,882.46 449.80,882.46 450.00,882.46 450.20,882.46 450.40,882.47 450.60,882.47 450.80,882.47 451.00,882.48 451.20,882.48 451.40,882.48 451.60,882.48 451.80,882.49 452.00,882.49 452.20,882.49 452.40,882.50 452.60,882.50 452.80,882.50 453.00,882.51 453.20,882.51 453.40,882.51 453.60,882.51 453.80,882.52 454.00,882.52 454.20,882.52 454.40,882.53 454.60,882.53 454.80,882.53 455.00,882.53 455.20,882.54 455.40,882.54 455.60,882.54 455.80,882.55 456.00,882.55 456.20,882.55 456.40,882.56 456.60,882.56 456.80,882.56 457.00,882.56 457.20,882.57 457.40,882.57 457.60,882.57 457.80,882.58 458.00,882.58 458.20,882.58 458.40,882.58 458.60,882.59 458.80,882.59 459.00,882.59 459.20,882.60 459.40,882.60 459.60,882.60 459.80,882.60 460.00,882.61 460.20,882.61 460.40,882.61 460.60,882.62 460.80,882.62 461.00,882.62 461.20,882.63 461.40,882.63 461.60,882.63 461.80,882.63 462.00,882.64 462.20,882.64 462.40,882.64 462.60,882.65 462.80,882.65 463.00,882.65 463.20,882.65 463.40,882.66 463.60,882.66 463.80,882.66 464.00,882.67 464.20,882.67 464.40,882.67 464.60,882.67 464.80,882.68 465.00,882.68 465.20,882.68 465.40,882.69 465.60,882.69 465.80,882.69 466.00,882.70 466.20,882.70 466.40,882.70 466.60,882.70 466.80,882.71 467.00,882.71 467.20,882.71 467.40,882.72 467.60,882.72 467.80,882.72 468.00,882.72 468.20,882.73 468.40,882.73 468.60,882.73 468.80,882.74 469.00,882.74 469.20,882.74 469.40,882.75 469.60,882.75 469.80,882.75 470.00,882.75 470.20,882.76 470.40,882.76 470.60,882.76 470.80,882.77 471.00,882.77 471.20,882.77 471.40,882.77 471.60,882.78 471.80,882.78 472.00,882.78 472.20,882.79 472.40,882.79 472.60,882.79 472.80,882.79 473.00,882.80 473.20,882.80 473.40,882.80 473.60,882.81 473.80,882.81 474.00,882.81 474.20,882.82 474.40,882.82 474.60,882.82 474.80,882.82 475.00,882.83 475.20,882.83 475.40,882.83 475.60,882.84 475.80,882.84 476.00,882.84 476.20,882.84 476.40,882.85 476.60,882.85 476.80,882.85 477.00,882.86 477.20,882.86 477.40,882.86 477.60,882.86 477.80,882.87 478.00,882.87 478.20,882.87 478.40,882.88 478.60,882.88 478.80,882.88 479.00,882.89 479.20,882.89 479.40,882.89 479.60,882.89 479.80,882.90 480.00,882.90 480.20,882.90 480.40,882.90 480.60,882.90 480.80,882.91 481.00,882.91 481.20,882.91 481.40,882.91 481.60,882.91 481.80,882.91 482.00,882.92 482.20,882.92 482.40,882.92 482.60,882.92 482.80,882.92 483.00,882.92 483.20,882.93 483.40,882.93 483.60,882.93 483.80,882.93 484.00,882.93 484.20,882.93 484.40,882.94 484.60,882.94 484.80,882.94 485.00,882.94 485.20,882.94 485.40,882.94 485.60,882.95 485.80,882.95 486.00,882.95 486.20,882.95 486.40,882.95 486.60,882.95 486.80,882.96 487.00,882.96 487.20,882.96 487.40,882.96 487.60,882.96 487.80,882.97 488.00,882.97 488.20,882.97 488.40,882.97 488.60,882.97 488.80,882.97 489.00,882.97 489.20,882.98 489.40,882.98 489.60,882.98 489.80,882.98 490.00,882.98 490.20,882.98 490.40,882.99 490.60,882.99 490.80,882.98 491.00,882.98 491.20,882.96 491.40,882.93 491.60,882.88 491.80,882.79 492.00,882.65 492.20,882.46 492.40,882.22 492.60,881.94 492.80,881.63 493.00,881.35 493.20,881.13 493.40,881.01 493.50,881.00 493.60,881.02 493.80,881.14 494.00,881.36 494.20,881.65 494.40,881.95 494.60,882.24 494.80,882.49 495.00,882.68 495.20,882.82 495.40,882.91 495.60,882.97 495.80,883.00 496.00,883.02 496.20,883.03 496.40,883.03 496.60,883.04 496.80,883.04 497.00,883.04 497.20,883.04 497.40,883.04 497.60,883.05 497.80,883.05 498.00,883.05 498.20,883.05 498.40,883.05 498.60,883.05 498.80,883.06 499.00,883.06 499.20,883.06 499.40,883.06 499.60,883.06 499.80,883.06 500.00,883.07 500.20,883.07 500.40,883.07 500.60,883.07 500.80,883.07 501.00,883.07 501.20,883.08 501.40,883.08 501.60,883.08 501.80,883.08 502.00,883.08 502.20,883.08 502.40,883.09 502.60,883.09 502.80,883.09 503.00,883.09 503.20,883.09 503.40,883.10 503.60,883.10 503.80,883.10 504.00,883.10 504.20,883.10 504.40,883.10 504.60,883.11 504.80,883.11 505.00,883.11 505.20,883.11 505.40,883.11 505.60,883.11 505.80,883.12 506.00,883.12 506.20,883.12 506.40,883.12 506.60,883.12 506.80,883.12 507.00,883.12 507.20,883.13 507.40,883.13 507.60,883.13 507.80,883.13 508.00,883.13 508.20,883.13 508.40,883.14 508.60,883.14 508.80,883.14 509.00,883.14 509.20,883.14 509.40,883.14 509.60,883.15 509.80,883.15 510.00,883.15 510.20,883.15 510.40,883.15 510.60,883.15 510.80,883.16 511.00,883.16 511.20,883.16 511.40,883.16 511.60,883.16 511.80,883.16 512.00,883.17 512.20,883.17 512.40,883.17 512.60,883.17 512.80,883.17 513.00,883.17 513.20,883.18 513.40,883.18 513.60,883.18 513.80,883.18 514.00,883.18 514.20,883.18 514.40,883.19 514.60,883.19 514.80,883.19 515.00,883.19 515.20,883.19 515.40,883.19 515.60,883.20 515.80,883.20 516.00,883.20 516.20,883.20 516.40,883.20 516.60,883.20 516.80,883.21 517.00,883.21 517.20,883.21 517.40,883.21 517.60,883.21 517.80,883.22 518.00,883.22 518.20,883.22 518.40,883.22 518.60,883.22 518.80,883.22 519.00,883.23 519.20,883.23 519.40,883.23 519.60,883.23 519.80,883.23 520.00,883.23 520.20,883.24 520.40,883.24 520.60,883.24 520.80,883.24 521.00,883.24 521.20,883.24 521.40,883.25 521.60,883.25 521.80,883.25 522.00,883.25 522.20,883.25 522.40,883.25 522.60,883.25 522.80,883.26 523.00,883.26 523.20,883.26 523.40,883.26 523.60,883.26 523.80,883.26 524.00,883.27 524.20,883.27 524.40,883.27 524.60,883.27 524.80,883.27 525.00,883.27 525.20,883.28 525.40,883.28 525.60,883.28 525.80,883.28 526.00,883.28 526.20,883.28 526.40,883.29 526.60,883.29 526.80,883.29 527.00,883.29 527.20,883.29 527.40,883.29 527.60,883.30 527.80,883.30 528.00,883.30 528.20,883.30 528.40,883.30 528.60,883.30 528.80,883.31 529.00,883.31 529.20,883.31 529.40,883.31 529.60,883.31 529.80,883.31 530.00,883.32 530.20,883.32 530.40,883.32 530.60,883.32 530.80,883.32 531.00,883.32 531.20,883.33 531.40,883.33 531.60,883.33 531.80,883.33 532.00,883.33 532.20,883.33 532.40,883.34 532.60,883.34 532.80,883.34 533.00,883.34 533.20,883.34 533.40,883.35 533.60,883.35 533.80,883.35 534.00,883.35 534.20,883.35 534.40,883.35 534.60,883.36 534.80,883.36 535.00,883.36 535.20,883.36 535.40,883.36 535.60,883.36 535.80,883.37 536.00,883.37 536.20,883.37 536.40,883.37 536.60,883.37 536.80,883.37 537.00,883.38 537.20,883.38 537.40,883.38 537.60,883.38 537.80,883.38 538.00,883.38 538.20,883.38 538.40,883.39 538.60,883.39 538.80,883.39 539.00,883.39 539.20,883.39 539.40,883.39 539.60,883.40 539.80,883.40 540.00,883.40 540.20,883.40 540.40,883.40 540.60,883.40 540.80,883.41 541.00,883.41 541.20,883.41 541.40,883.41 541.60,883.41 541.80,883.41 542.00,883.42 542.20,883.42 542.40,883.42 542.60,883.42 542.80,883.42 543.00,883.42 543.20,883.43 543.40,883.43 543.60,883.43 543.80,883.43 544.00,883.43 544.20,883.43 544.40,883.44 544.60,883.44 544.80,883.44 545.00,883.44 545.20,883.44 545.40,883.44 545.60,883.45 545.80,883.45 546.00,883.45 546.20,883.45 546.40,883.45 546.60,883.45 546.80,883.46 547.00,883.46 547.20,883.46 547.40,883.46 547.60,883.46 547.80,883.47 548.00,883.47 548.20,883.47 548.40,883.47 548.60,883.47 548.80,883.47 549.00,883.48 549.20,883.48 549.40,883.48 549.60,883.48 549.80,883.48 550.00,883.48 550.20,883.49 550.40,883.49 550.60,883.49 550.80,883.49 551.00,883.49 551.20,883.49 551.40,883.50 551.60,883.50 551.80,883.50 552.00,883.50 552.20,883.50 552.40,883.50 552.60,883.50 552.80,883.51 553.00,883.51 553.20,883.51 553.40,883.51 553.60,883.51 553.80,883.51 554.00,883.52 554.20,883.52 554.40,883.52 554.60,883.52 554.80,883.52 555.00,883.52 555.20,883.53 555.40,883.53 555.60,883.53 555.80,883.53 556.00,883.53 556.20,883.53 556.40,883.54 556.60,883.54 556.80,883.54 557.00,883.54 557.20,883.54 557.40,883.54 557.60,883.55 557.80,883.55 558.00,883.55 558.20,883.55 558.40,883.55 558.60,883.55 558.80,883.56 559.00,883.56 559.20,883.56 559.40,883.56 559.60,883.56 559.80,883.56 560.00,883.57 560.20,883.57 560.40,883.57 560.60,883.57 560.80,883.57 561.00,883.57 561.20,883.58 561.40,883.58 561.60,883.58 561.80,883.58 562.00,883.58 562.20,883.58 562.40,883.59 562.60,883.59 562.80,883.59 563.00,883.59 563.20,883.59 563.40,883.60 563.60,883.60 563.80,883.60 564.00,883.60 564.20,883.60 564.40,883.60 564.60,883.61 564.80,883.61 565.00,883.61 565.20,883.61 565.40,883.61 565.60,883.61 565.80,883.62 566.00,883.62 566.20,883.62 566.40,883.62 566.60,883.62 566.80,883.62 567.00,883.62 567.20,883.63 567.40,883.63 567.60,883.63 567.80,883.63 568.00,883.63 568.20,883.63 568.40,883.64 568.60,883.64 568.80,883.64 569.00,883.64 569.20,883.64 569.40,883.64 569.60,883.65 569.80,883.65 570.00,883.65 570.20,883.65 570.40,883.65 570.60,883.65 570.80,883.66 571.00,883.66 571.20,883.66 571.40,883.66 571.60,883.66 571.80,883.66 572.00,883.67 572.20,883.67 572.40,883.67 572.60,883.67 572.80,883.67 573.00,883.67 573.20,883.68 573.40,883.68 573.60,883.68 573.80,883.68 574.00,883.68 574.20,883.68 574.40,883.69 574.60,883.69 574.80,883.69 575.00,883.69 575.20,883.69 575.40,883.69 575.60,883.70 575.80,883.70 576.00,883.70 576.20,883.70 576.40,883.70 576.60,883.70 576.80,883.71 577.00,883.71 577.20,883.71 577.40,883.71 577.60,883.71 577.80,883.72 578.00,883.72 578.20,883.72 578.40,883.72 578.60,883.72 578.80,883.72 579.00,883.73 579.20,883.73 579.40,883.73 579.60,883.73 579.80,883.73 580.00,883.73 580.20,883.74 580.40,883.74 580.60,883.74 580.80,883.74 581.00,883.74 581.20,883.74 581.40,883.75 581.60,883.75 581.80,883.75 582.00,883.75 582.20,883.75 582.40,883.75 582.60,883.75 582.80,883.76 583.00,883.76 583.20,883.76 583.40,883.76 583.60,883.76 583.80,883.76 584.00,883.77 584.20,883.77 584.40,883.77 584.60,883.77 584.80,883.77 585.00,883.77 585.20,883.78 585.40,883.78 585.60,883.78 585.80,883.78 586.00,883.78 586.20,883.78 586.40,883.79 586.60,883.79 586.80,883.79 587.00,883.79 587.20,883.79 587.40,883.79 587.60,883.80 587.80,883.80 588.00,883.80 588.20,883.80 588.40,883.80 588.60,883.80 588.80,883.81 589.00,883.81 589.20,883.81 589.40,883.81 589.60,883.81 589.80,883.81 590.00,883.82 590.20,883.82 590.40,883.82 590.60,883.82 590.80,883.82 591.00,883.82 591.20,883.83 591.40,883.83 591.60,883.83 591.80,883.83 592.00,883.83 592.20,883.83 592.40,883.84 592.60,883.84 592.80,883.84 593.00,883.84 593.20,883.84 593.40,883.85 593.60,883.85 593.80,883.85 594.00,883.85 594.20,883.85 594.40,883.85 594.60,883.86 594.80,883.86 595.00,883.86 595.20,883.86 595.40,883.86 595.60,883.86 595.80,883.87 596.00,883.87 596.20,883.87 596.40,883.87 596.60,883.87 596.80,883.87 597.00,883.88 597.20,883.88 597.40,883.88 597.60,883.88 597.80,883.88 598.00,883.88 598.20,883.88 598.40,883.89 598.60,883.89 598.80,883.89 599.00,883.89 599.20,883.89 599.40,883.89 599.60,883.90 599.80,883.90 600.00,883.90 600.20,883.90 600.40,883.90 600.60,883.90 600.80,883.90 601.00,883.91 601.20,883.91 601.40,883.91 601.60,883.91 601.80,883.91 602.00,883.91 602.20,883.91 602.40,883.91 602.60,883.92 602.80,883.92 603.00,883.92 603.20,883.92 603.40,883.92 603.60,883.92 603.80,883.92 604.00,883.92 604.20,883.92 604.40,883.93 604.60,883.92 604.80,883.91 605.00,883.88 605.20,883.76 605.40,883.45 605.60,882.69 605.80,881.07 606.00,878.04 606.20,873.08 606.40,866.04 606.60,857.53 606.80,849.07 607.00,842.75 607.20,840.40 607.40,842.75 607.60,849.08 607.80,857.54 608.00,866.05 608.20,873.09 608.40,878.06 608.60,881.09 608.80,882.71 609.00,883.47 609.20,883.79 609.40,883.90 609.60,883.94 609.80,883.95 610.00,883.96 610.20,883.96 610.40,883.96 610.60,883.96 610.80,883.96 611.00,883.96 611.20,883.97 611.40,883.97 611.60,883.97 611.80,883.97 612.00,883.97 612.20,883.97 612.40,883.97 612.60,883.97 612.80,883.98 613.00,883.98 613.20,883.98 613.40,883.98 613.60,883.98 613.80,883.98 614.00,883.98 614.20,883.98 614.40,883.98 614.60,883.99 614.80,883.99 615.00,883.99 615.20,883.99 615.40,883.99 615.60,883.99 615.80,883.99 616.00,883.99 616.20,884.00 616.40,884.00 616.60,884.00 616.80,884.00 617.00,884.00 617.20,884.00 617.40,884.00 617.60,884.00 617.80,884.00 618.00,884.01 618.20,884.01 618.40,884.01 618.60,884.01 618.80,884.01 619.00,884.01 619.20,884.01 619.40,884.01 619.60,884.02 619.80,884.02 620.00,884.02 620.20,884.02 620.40,884.02 620.60,884.02 620.80,884.02 621.00,884.02 621.20,884.02 621.40,884.03 621.60,884.03 621.80,884.03 622.00,884.03 622.20,884.03 622.40,884.03 622.60,884.03 622.80,884.03 623.00,884.04 623.20,884.04 623.40,884.04 623.60,884.04 623.80,884.04 624.00,884.04 624.20,884.04 624.40,884.04 624.60,884.04 624.80,884.05 625.00,884.05 625.20,884.05 625.40,884.05 625.60,884.05 625.80,884.05 626.00,884.05 626.20,884.05 626.40,884.06 626.60,884.06 626.80,884.06 627.00,884.06 627.20,884.06 627.40,884.06 627.60,884.06 627.80,884.06 628.00,884.06 628.20,884.07 628.40,884.07 628.60,884.07 628.80,884.07 629.00,884.07 629.20,884.07 629.40,884.07 629.60,884.07 629.80,884.08 630.00,884.08 630.20,884.08 630.40,884.08 630.60,884.08 630.80,884.08 631.00,884.08 631.20,884.08 631.40,884.08 631.60,884.09 631.80,884.09 632.00,884.09 632.20,884.09 632.40,884.09 632.60,884.09 632.80,884.09 633.00,884.09 633.20,884.10 633.40,884.10 633.60,884.10 633.80,884.10 634.00,884.10 634.20,884.10 634.40,884.10 634.60,884.10 634.80,884.10 635.00,884.11 635.20,884.11 635.40,884.11 635.60,884.11 635.80,884.11 636.00,884.11 636.20,884.11 636.40,884.11 636.60,884.12 636.80,884.12 637.00,884.12 637.20,884.12 637.40,884.12 637.60,884.12 637.80,884.12 638.00,884.12 638.20,884.12 638.40,884.13 638.60,884.13 638.80,884.13 639.00,884.13 639.20,884.13 639.40,884.13 639.60,884.13 639.80,884.13 640.00,884.14 640.20,884.14 640.40,884.14 640.60,884.14 640.80,884.14 641.00,884.14 641.20,884.14 641.40,884.14 641.60,884.14 641.80,884.15 642.00,884.15 642.20,884.15 642.40,884.15 642.60,884.15 642.80,884.15 643.00,884.15 643.20,884.15 643.40,884.16 643.60,884.16 643.80,884.16 644.00,884.16 644.20,884.16 644.40,884.16 644.60,884.16 644.80,884.16 645.00,884.16 645.20,884.17 645.40,884.17 645.60,884.17 645.80,884.17 646.00,884.17 646.20,884.17 646.40,884.17 646.60,884.17 646.80,884.18 647.00,884.18 647.20,884.18 647.40,884.18 647.60,884.18 647.80,884.18 648.00,884.18 648.20,884.18 648.40,884.18 648.60,884.19 648.80,884.19 649.00,884.19 649.20,884.19 649.40,884.19 649.60,884.19 649.80,884.19 650.00,884.19 650.20,884.20 650.40,884.20 650.60,884.20 650.80,884.20 651.00,884.20 651.20,884.20 651.40,884.20 651.60,884.20 651.80,884.20 652.00,884.21 652.20,884.21 652.40,884.21 652.60,884.21 652.80,884.21 653.00,884.21 653.20,884.21 653.40,884.21 653.60,884.22 653.80,884.22 654.00,884.22 654.20,884.22 654.40,884.22 654.60,884.22 654.80,884.22 655.00,884.22 655.20,884.22 655.40,884.23 655.60,884.23 655.80,884.23 656.00,884.23 656.20,884.23 656.40,884.23 656.60,884.23 656.80,884.23 657.00,884.24 657.20,884.24 657.40,884.24 657.60,884.24 657.80,884.24 658.00,884.24 658.20,884.24 658.40,884.24 658.60,884.24 658.80,884.25 659.00,884.25 659.20,884.25 659.40,884.25 659.60,884.25 659.80,884.25 660.00,884.25 660.20,884.25 660.40,884.26 660.60,884.26 660.80,884.26 661.00,884.26 661.20,884.26 661.40,884.26 661.60,884.26 661.80,884.26 662.00,884.26 662.20,884.27 662.40,884.27 662.60,884.27 662.80,884.27 663.00,884.27 663.20,884.27 663.40,884.27 663.60,884.27 663.80,884.28 664.00,884.28 664.20,884.28 664.40,884.28 664.60,884.28 664.80,884.28 665.00,884.28 665.20,884.28 665.40,884.28 665.60,884.29 665.80,884.29 666.00,884.29 666.20,884.29 666.40,884.29 666.60,884.29 666.80,884.29 667.00,884.29 667.20,884.30 667.40,884.30 667.60,884.30 667.80,884.30 668.00,884.30 668.20,884.30 668.40,884.30 668.60,884.30 668.80,884.30 669.00,884.31 669.20,884.31 669.40,884.31 669.60,884.31 669.80,884.31 670.00,884.31 670.20,884.31 670.40,884.31 670.60,884.32 670.80,884.32 671.00,884.32 671.20,884.32 671.40,884.32 671.60,884.32 671.80,884.32 672.00,884.32 672.20,884.32 672.40,884.33 672.60,884.33 672.80,884.33 673.00,884.33 673.20,884.33 673.40,884.33 673.60,884.33 673.80,884.33 674.00,884.34 674.20,884.34 674.40,884.34 674.60,884.34 674.80,884.34 675.00,884.34 675.20,884.34 675.40,884.34 675.60,884.34 675.80,884.35 676.00,884.35 676.20,884.35 676.40,884.35 676.60,884.35 676.80,884.35 677.00,884.35 677.20,884.35 677.40,884.36 677.60,884.36 677.80,884.36 678.00,884.36 678.20,884.36 678.40,884.36 678.60,884.36 678.80,884.36 679.00,884.36 679.20,884.37 679.40,884.37 679.60,884.37 679.80,884.37 680.00,884.37 680.20,884.37 680.40,884.37 680.60,884.37 680.80,884.38 681.00,884.38 681.20,884.38 681.40,884.38 681.60,884.38 681.80,884.38 682.00,884.38 682.20,884.38 682.40,884.38 682.60,884.39 682.80,884.39 683.00,884.39 683.20,884.39 683.40,884.39 683.60,884.39 683.80,884.39 684.00,884.39 684.20,884.40 684.40,884.40" fill="none" stroke="#4848f0" stroke-width="1.7" stroke-linejoin="round"/>
<line x1="66.0" y1="889.4" x2="684.2" y2="889.4" stroke="#1a1a1a" stroke-width="2"/>
<line x1="145.70" y1="889" x2="145.70" y2="895.6" stroke="#1a1a1a" stroke-width="1.8"/>
<line x1="243.42" y1="889" x2="243.42" y2="895.6" stroke="#1a1a1a" stroke-width="1.8"/>
<line x1="341.14" y1="889" x2="341.14" y2="895.6" stroke="#1a1a1a" stroke-width="1.8"/>
<line x1="438.86" y1="889" x2="438.86" y2="895.6" stroke="#1a1a1a" stroke-width="1.8"/>
<line x1="536.58" y1="889" x2="536.58" y2="895.6" stroke="#1a1a1a" stroke-width="1.8"/>
<line x1="634.30" y1="889" x2="634.30" y2="895.6" stroke="#1a1a1a" stroke-width="1.8"/>
<text transform="translate(12.53,21.08) scale(1.0806,1)" font-size="29.23" font-weight="bold" font-style="normal" fill="#000" xml:space="preserve">(a)</text>
<text transform="translate(19.68,272.40) rotate(-90) scale(0.9801,1)" font-size="26.82" font-weight="bold" font-style="italic" fill="#000" xml:space="preserve">W. rabaulensis</text>
<text transform="translate(21.92,595.16) rotate(-90) scale(1.0117,1)" font-size="26.04" font-weight="bold" font-style="italic" fill="#000" xml:space="preserve">H. guilliermondii</text>
<text transform="translate(21.20,819.10) rotate(-90) scale(0.9891,1)" font-size="26.54" font-weight="bold" font-style="normal" fill="#000" xml:space="preserve">SDB (Control)</text>
<text transform="translate(74.94,149.85) scale(1.1348,1)" font-size="21.06" font-weight="bold" font-style="normal" fill="#000" xml:space="preserve">1</text>
<text transform="translate(140.78,27.50) scale(1.2194,1)" font-size="21.69" font-weight="bold" font-style="normal" fill="#000" xml:space="preserve">5</text>
<text transform="translate(162.58,134.46) scale(1.1510,1)" font-size="22.27" font-weight="bold" font-style="normal" fill="#000" xml:space="preserve">6</text>
<text transform="translate(170.72,251.83) scale(1.2343,1)" font-size="21.31" font-weight="bold" font-style="normal" fill="#000" xml:space="preserve">7</text>
<text transform="translate(192.94,264.75) scale(1.1514,1)" font-size="21.37" font-weight="bold" font-style="normal" fill="#000" xml:space="preserve">is1</text>
<text transform="translate(260.63,115.30) scale(1.1742,1)" font-size="21.66" font-weight="bold" font-style="normal" fill="#000" xml:space="preserve">9</text>
<text transform="translate(592.19,293.58) scale(1.1879,1)" font-size="21.11" font-weight="bold" font-style="normal" fill="#000" xml:space="preserve">is2</text>
<text transform="translate(234.40,434.56) scale(1.3522,1)" font-size="20.77" font-weight="bold" font-style="normal" fill="#000" xml:space="preserve">8</text>
<text transform="translate(188.79,454.26) scale(1.1221,1)" font-size="21.51" font-weight="bold" font-style="normal" fill="#000" xml:space="preserve">is1</text>
<text transform="translate(139.17,488.88) scale(1.2168,1)" font-size="21.71" font-weight="bold" font-style="normal" fill="#000" xml:space="preserve">5</text>
<text transform="translate(593.56,427.62) scale(1.3257,1)" font-size="19.18" font-weight="bold" font-style="normal" fill="#000" xml:space="preserve">is2</text>
<text transform="translate(69.33,672.39) scale(1.1866,1)" font-size="22.33" font-weight="bold" font-style="normal" fill="#000" xml:space="preserve">2</text>
<text transform="translate(113.31,676.51) scale(1.1430,1)" font-size="21.79" font-weight="bold" font-style="normal" fill="#000" xml:space="preserve">3,4</text>
<text transform="translate(169.73,676.00) scale(1.3353,1)" font-size="19.49" font-weight="bold" font-style="normal" fill="#000" xml:space="preserve">7</text>
<text transform="translate(249.04,674.43) scale(1.2198,1)" font-size="21.26" font-weight="bold" font-style="normal" fill="#000" xml:space="preserve">9,10</text>
<text transform="translate(561.52,674.99) scale(1.0644,1)" font-size="22.48" font-weight="bold" font-style="normal" fill="#000" xml:space="preserve">11</text>
<text transform="translate(184.02,773.61) scale(1.2965,1)" font-size="18.56" font-weight="bold" font-style="normal" fill="#000" xml:space="preserve">is1</text>
<text transform="translate(590.35,835.40) scale(1.4057,1)" font-size="18.40" font-weight="bold" font-style="normal" fill="#000" xml:space="preserve">is2</text>
<text transform="translate(140.64,914.42) scale(1.1926,1)" font-size="18.22" font-weight="bold" font-style="normal" fill="#000" xml:space="preserve">4</text>
<text transform="translate(238.32,915.17) scale(1.2793,1)" font-size="18.13" font-weight="bold" font-style="normal" fill="#000" xml:space="preserve">6</text>
<text transform="translate(336.29,915.21) scale(1.1721,1)" font-size="19.67" font-weight="bold" font-style="normal" fill="#000" xml:space="preserve">8</text>
<text transform="translate(428.67,915.00) scale(1.1848,1)" font-size="19.47" font-weight="bold" font-style="normal" fill="#000" xml:space="preserve">10</text>
<text transform="translate(526.72,915.23) scale(1.1049,1)" font-size="19.76" font-weight="bold" font-style="normal" fill="#000" xml:space="preserve">12</text>
<text transform="translate(624.59,915.40) scale(1.0862,1)" font-size="20.04" font-weight="bold" font-style="normal" fill="#000" xml:space="preserve">14</text>
<text transform="translate(272.11,946.33) scale(1.0644,1)" font-size="21.77" font-weight="bold" font-style="normal" fill="#000" xml:space="preserve">Retention time (min)</text>
<text transform="translate(-0.71,1010.12) scale(1.0796,1)" font-size="32.40" font-weight="bold" font-style="normal" fill="#000" xml:space="preserve">(b)</text>
<text transform="translate(381.63,1038.17) scale(1.0178,1)" font-size="26.33" font-weight="bold" font-style="normal" fill="#000" xml:space="preserve">SDB (Control)</text>
<text transform="translate(11.54,1091.93) scale(1.0263,1)" font-size="28.08" font-weight="bold" font-style="italic" fill="#000" xml:space="preserve">H. guilliermondii</text>
<text transform="translate(9.04,1446.62) scale(1.0188,1)" font-size="28.08" font-weight="bold" font-style="italic" fill="#000" xml:space="preserve">W. rabaulensis</text>
<text transform="translate(393.04,1477.49) scale(0.9640,1)" font-size="25.30" font-weight="bold" font-style="normal" fill="#000" xml:space="preserve">ANOSIM</text>
<text transform="translate(492.12,1477.52) scale(1.0453,1)" font-size="24.07" font-weight="bold" font-style="italic" fill="#000" xml:space="preserve">(R = 1, p = 0.0001)</text>
<text transform="translate(17.33,1253.73) scale(0.9919,1)" font-size="23.04" font-weight="bold" font-style="normal" fill="#333" xml:space="preserve">NMDS2</text>
<text transform="translate(257.97,1482.57) scale(0.9973,1)" font-size="22.70" font-weight="bold" font-style="normal" fill="#333" xml:space="preserve">NMDS1</text>
<text transform="translate(260.82,1054.56) scale(0.9158,1)" font-size="21.99" font-weight="normal" font-style="normal" fill="#333" xml:space="preserve">0.20</text>
<text transform="translate(260.48,1104.61) scale(0.9458,1)" font-size="21.55" font-weight="normal" font-style="normal" fill="#333" xml:space="preserve">0.15</text>
<text transform="translate(260.49,1154.61) scale(0.9290,1)" font-size="21.90" font-weight="normal" font-style="normal" fill="#333" xml:space="preserve">0.10</text>
<text transform="translate(260.47,1204.56) scale(0.9337,1)" font-size="21.86" font-weight="normal" font-style="normal" fill="#333" xml:space="preserve">0.05</text>
<text transform="translate(254.18,1304.57) scale(0.9199,1)" font-size="21.88" font-weight="normal" font-style="normal" fill="#333" xml:space="preserve">-0.05</text>
<text transform="translate(253.85,1354.61) scale(0.9220,1)" font-size="21.93" font-weight="normal" font-style="normal" fill="#333" xml:space="preserve">-0.10</text>
<text transform="translate(254.15,1404.60) scale(0.9352,1)" font-size="21.54" font-weight="normal" font-style="normal" fill="#333" xml:space="preserve">-0.15</text>
<text transform="translate(254.16,1454.56) scale(0.9166,1)" font-size="22.01" font-weight="normal" font-style="normal" fill="#333" xml:space="preserve">-0.20</text>
<text transform="translate(153.65,1276.38) scale(0.9209,1)" font-size="21.07" font-weight="normal" font-style="normal" fill="#333" xml:space="preserve">-0.2</text>
<text transform="translate(221.96,1276.39) scale(0.9231,1)" font-size="21.42" font-weight="normal" font-style="normal" fill="#333" xml:space="preserve">-0.1</text>
<text transform="translate(361.03,1276.40) scale(0.9778,1)" font-size="21.26" font-weight="normal" font-style="normal" fill="#333" xml:space="preserve">0.1</text>
<text transform="translate(429.40,1276.38) scale(0.9480,1)" font-size="21.37" font-weight="normal" font-style="normal" fill="#333" xml:space="preserve">0.2</text>
<text transform="translate(497.76,1276.48) scale(0.9374,1)" font-size="21.11" font-weight="normal" font-style="normal" fill="#333" xml:space="preserve">0.3</text>
<text transform="translate(565.89,1276.38) scale(0.9234,1)" font-size="21.19" font-weight="normal" font-style="normal" fill="#333" xml:space="preserve">0.4</text>
<text transform="translate(634.40,1276.42) scale(0.9549,1)" font-size="20.95" font-weight="normal" font-style="normal" fill="#333" xml:space="preserve">0.5</text>
<ellipse cx="171.9" cy="1196.5" rx="35.3" ry="19.6" transform="rotate(-16 171.9 1196.5)" fill="#008000" fill-opacity="0.25" stroke="#1a8c1a" stroke-width="2.8"/>
<polygon points="162.20,1199.10 167.70,1192.20 180.60,1191.20 175.00,1200.40" fill="#0a820a" stroke="#0a820a" stroke-width="2.5" stroke-linejoin="round"/>
<circle cx="162.2" cy="1199.1" r="5.1" fill="#0a820a"/>
<circle cx="167.7" cy="1192.2" r="5.1" fill="#0a820a"/>
<circle cx="180.6" cy="1191.2" r="5.1" fill="#0a820a"/>
<circle cx="175.0" cy="1200.4" r="5.1" fill="#0a820a"/>
<ellipse cx="195.0" cy="1301.6" rx="63.6" ry="15.3" transform="rotate(-56 195.0 1301.6)" fill="#ff0000" fill-opacity="0.27" stroke="#ff0a0a" stroke-width="2.8"/>
<polygon points="197.80,1290.50 203.00,1296.40 189.60,1317.40 185.50,1309.80" fill="#ff0000" fill-opacity="0.1" stroke="#ff0505" stroke-width="2.6" stroke-linejoin="round"/>
<circle cx="197.8" cy="1290.5" r="5.2" fill="#ff0505"/>
<circle cx="203.0" cy="1296.4" r="5.2" fill="#ff0505"/>
<circle cx="189.6" cy="1317.4" r="5.2" fill="#ff0505"/>
<circle cx="185.5" cy="1309.8" r="5.2" fill="#ff0505"/>
<ellipse cx="549.2" cy="1243.5" rx="23.8" ry="185.4" transform="rotate(-10.2 549.2 1243.5)" fill="#0000ff" fill-opacity="0.27" stroke="#1515ff" stroke-width="2.8"/>
<polygon points="537.90,1190.90 556.60,1239.90 552.70,1263.80 554.70,1288.10 552.70,1263.80 543.50,1236.20" fill="#0000ff" fill-opacity="0.22" stroke="#1515ff" stroke-width="2.4" stroke-linejoin="round"/>
<circle cx="537.9" cy="1190.9" r="5.0" fill="#1515ff"/>
<circle cx="543.5" cy="1236.2" r="5.0" fill="#1515ff"/>
<circle cx="556.6" cy="1239.9" r="5.0" fill="#1515ff"/>
<circle cx="552.7" cy="1263.8" r="5.0" fill="#1515ff"/>
<circle cx="554.7" cy="1288.1" r="5.0" fill="#1515ff"/>
<line x1="305.30" y1="1047.30" x2="305.30" y2="1447.30" stroke="#3a3a3a" stroke-width="1.8"/>
<line x1="101.0" y1="1247.6" x2="646.70" y2="1247.6" stroke="#3a3a3a" stroke-width="1.8"/>
<line x1="297.6" y1="1047.30" x2="305.30" y2="1047.30" stroke="#3a3a3a" stroke-width="1.6"/>
<line x1="297.6" y1="1097.30" x2="305.30" y2="1097.30" stroke="#3a3a3a" stroke-width="1.6"/>
<line x1="297.6" y1="1147.30" x2="305.30" y2="1147.30" stroke="#3a3a3a" stroke-width="1.6"/>
<line x1="297.6" y1="1197.30" x2="305.30" y2="1197.30" stroke="#3a3a3a" stroke-width="1.6"/>
<line x1="297.6" y1="1297.30" x2="305.30" y2="1297.30" stroke="#3a3a3a" stroke-width="1.6"/>
<line x1="297.6" y1="1347.30" x2="305.30" y2="1347.30" stroke="#3a3a3a" stroke-width="1.6"/>
<line x1="297.6" y1="1397.30" x2="305.30" y2="1397.30" stroke="#3a3a3a" stroke-width="1.6"/>
<line x1="297.6" y1="1447.30" x2="305.30" y2="1447.30" stroke="#3a3a3a" stroke-width="1.6"/>
<line x1="168.74" y1="1247.6" x2="168.74" y2="1255.3" stroke="#3a3a3a" stroke-width="1.6"/>
<line x1="237.02" y1="1247.6" x2="237.02" y2="1255.3" stroke="#3a3a3a" stroke-width="1.6"/>
<line x1="373.58" y1="1247.6" x2="373.58" y2="1255.3" stroke="#3a3a3a" stroke-width="1.6"/>
<line x1="441.86" y1="1247.6" x2="441.86" y2="1255.3" stroke="#3a3a3a" stroke-width="1.6"/>
<line x1="510.14" y1="1247.6" x2="510.14" y2="1255.3" stroke="#3a3a3a" stroke-width="1.6"/>
<line x1="578.42" y1="1247.6" x2="578.42" y2="1255.3" stroke="#3a3a3a" stroke-width="1.6"/>
<line x1="646.70" y1="1247.6" x2="646.70" y2="1255.3" stroke="#3a3a3a" stroke-width="1.6"/>
</svg></body></html>
